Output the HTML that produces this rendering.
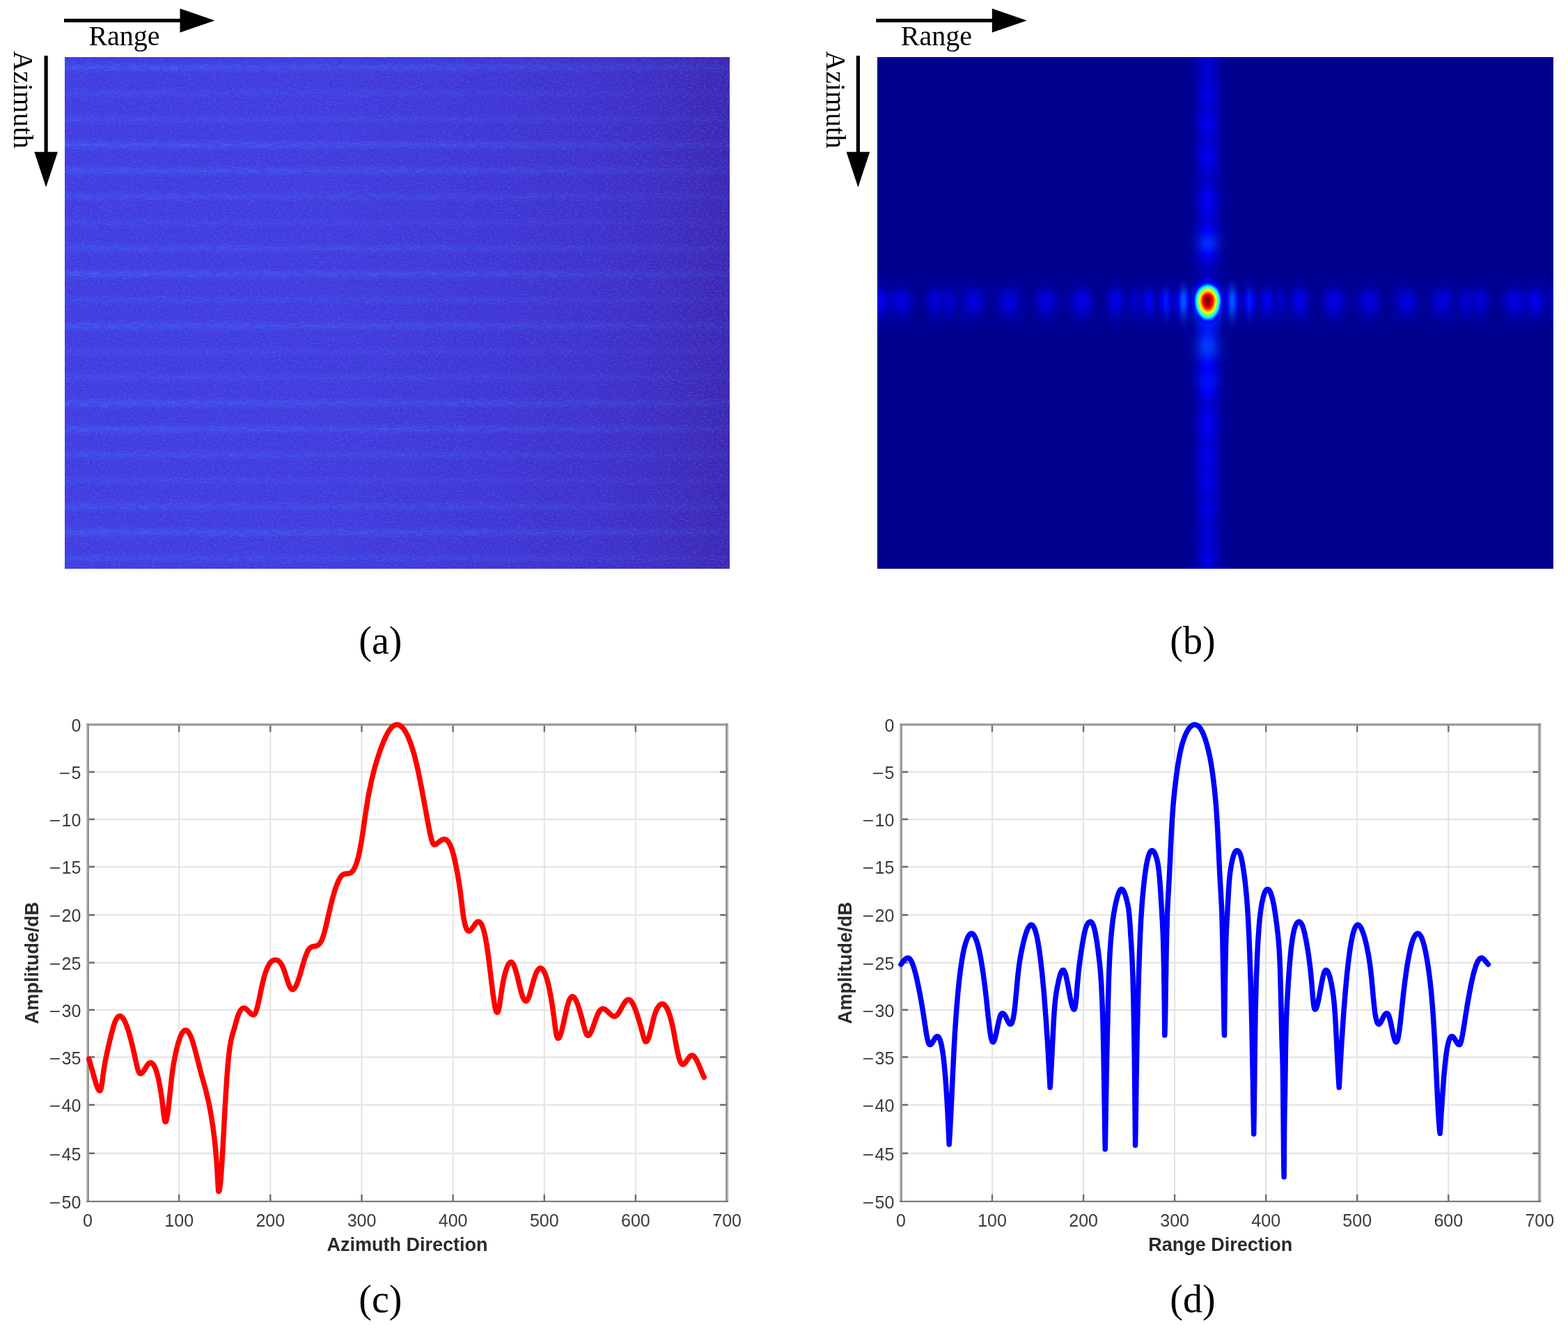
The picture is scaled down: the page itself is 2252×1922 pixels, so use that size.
<!DOCTYPE html>
<html lang="en"><head><meta charset="utf-8"><title>Point target response figure</title>
<style>html,body{margin:0;padding:0;background:#fff}body{width:2252px;height:1922px;overflow:hidden}svg{display:block}.se{font-family:"Liberation Serif",serif;fill:#000}.tk{font-family:"Liberation Sans",sans-serif;font-size:25px;fill:#3a3a3a}.lb{font-family:"Liberation Sans",sans-serif;font-size:27px;font-weight:bold;fill:#2a2a2a}</style></head><body>
<svg xmlns="http://www.w3.org/2000/svg" width="2252" height="1922" viewBox="0 0 2252 1922">
<rect width="2252" height="1922" fill="#fff"/>
<defs>
<linearGradient id="ga" x1="0" x2="1" y1="0" y2="0">
<stop offset="0" stop-color="#453fe3"/>
<stop offset="0.3" stop-color="#453ee2"/>
<stop offset="0.5" stop-color="#443bdd"/>
<stop offset="0.65" stop-color="#4337d6"/>
<stop offset="0.8" stop-color="#4232cb"/>
<stop offset="0.9" stop-color="#412dc0"/>
<stop offset="0.96" stop-color="#4029b5"/>
<stop offset="1" stop-color="#3e26ac"/>
</linearGradient>
<linearGradient id="gs" x1="0" x2="0" y1="0" y2="1"><stop offset="0.0000" stop-color="#fff" stop-opacity="0.000"/><stop offset="0.0071" stop-color="#fff" stop-opacity="0.000"/><stop offset="0.0143" stop-color="#fff" stop-opacity="0.002"/><stop offset="0.0214" stop-color="#fff" stop-opacity="0.016"/><stop offset="0.0286" stop-color="#fff" stop-opacity="0.090"/><stop offset="0.0357" stop-color="#fff" stop-opacity="0.302"/><stop offset="0.0429" stop-color="#fff" stop-opacity="0.627"/><stop offset="0.0500" stop-color="#fff" stop-opacity="0.800"/><stop offset="0.0571" stop-color="#fff" stop-opacity="0.627"/><stop offset="0.0643" stop-color="#fff" stop-opacity="0.302"/><stop offset="0.0714" stop-color="#fff" stop-opacity="0.090"/><stop offset="0.0786" stop-color="#fff" stop-opacity="0.016"/><stop offset="0.0857" stop-color="#fff" stop-opacity="0.002"/><stop offset="0.0929" stop-color="#fff" stop-opacity="0.000"/><stop offset="0.1000" stop-color="#fff" stop-opacity="0.000"/><stop offset="0.1071" stop-color="#fff" stop-opacity="0.000"/><stop offset="0.1143" stop-color="#fff" stop-opacity="0.001"/><stop offset="0.1214" stop-color="#fff" stop-opacity="0.008"/><stop offset="0.1286" stop-color="#fff" stop-opacity="0.045"/><stop offset="0.1357" stop-color="#fff" stop-opacity="0.151"/><stop offset="0.1429" stop-color="#fff" stop-opacity="0.314"/><stop offset="0.1500" stop-color="#fff" stop-opacity="0.400"/><stop offset="0.1571" stop-color="#fff" stop-opacity="0.314"/><stop offset="0.1643" stop-color="#fff" stop-opacity="0.151"/><stop offset="0.1714" stop-color="#fff" stop-opacity="0.045"/><stop offset="0.1786" stop-color="#fff" stop-opacity="0.008"/><stop offset="0.1857" stop-color="#fff" stop-opacity="0.001"/><stop offset="0.1929" stop-color="#fff" stop-opacity="0.000"/><stop offset="0.2000" stop-color="#fff" stop-opacity="0.000"/><stop offset="0.2071" stop-color="#fff" stop-opacity="0.000"/><stop offset="0.2143" stop-color="#fff" stop-opacity="0.001"/><stop offset="0.2214" stop-color="#fff" stop-opacity="0.010"/><stop offset="0.2286" stop-color="#fff" stop-opacity="0.056"/><stop offset="0.2357" stop-color="#fff" stop-opacity="0.189"/><stop offset="0.2429" stop-color="#fff" stop-opacity="0.392"/><stop offset="0.2500" stop-color="#fff" stop-opacity="0.500"/><stop offset="0.2571" stop-color="#fff" stop-opacity="0.392"/><stop offset="0.2643" stop-color="#fff" stop-opacity="0.189"/><stop offset="0.2714" stop-color="#fff" stop-opacity="0.056"/><stop offset="0.2786" stop-color="#fff" stop-opacity="0.010"/><stop offset="0.2857" stop-color="#fff" stop-opacity="0.001"/><stop offset="0.2929" stop-color="#fff" stop-opacity="0.000"/><stop offset="0.3000" stop-color="#fff" stop-opacity="0.000"/><stop offset="0.3071" stop-color="#fff" stop-opacity="0.000"/><stop offset="0.3143" stop-color="#fff" stop-opacity="0.002"/><stop offset="0.3214" stop-color="#fff" stop-opacity="0.017"/><stop offset="0.3286" stop-color="#fff" stop-opacity="0.095"/><stop offset="0.3357" stop-color="#fff" stop-opacity="0.321"/><stop offset="0.3429" stop-color="#fff" stop-opacity="0.667"/><stop offset="0.3500" stop-color="#fff" stop-opacity="0.850"/><stop offset="0.3571" stop-color="#fff" stop-opacity="0.667"/><stop offset="0.3643" stop-color="#fff" stop-opacity="0.321"/><stop offset="0.3714" stop-color="#fff" stop-opacity="0.095"/><stop offset="0.3786" stop-color="#fff" stop-opacity="0.017"/><stop offset="0.3857" stop-color="#fff" stop-opacity="0.002"/><stop offset="0.3929" stop-color="#fff" stop-opacity="0.000"/><stop offset="0.4000" stop-color="#fff" stop-opacity="0.000"/><stop offset="0.4071" stop-color="#fff" stop-opacity="0.000"/><stop offset="0.4143" stop-color="#fff" stop-opacity="0.002"/><stop offset="0.4214" stop-color="#fff" stop-opacity="0.016"/><stop offset="0.4286" stop-color="#fff" stop-opacity="0.090"/><stop offset="0.4357" stop-color="#fff" stop-opacity="0.302"/><stop offset="0.4429" stop-color="#fff" stop-opacity="0.627"/><stop offset="0.4500" stop-color="#fff" stop-opacity="0.800"/><stop offset="0.4571" stop-color="#fff" stop-opacity="0.627"/><stop offset="0.4643" stop-color="#fff" stop-opacity="0.302"/><stop offset="0.4714" stop-color="#fff" stop-opacity="0.090"/><stop offset="0.4786" stop-color="#fff" stop-opacity="0.016"/><stop offset="0.4857" stop-color="#fff" stop-opacity="0.002"/><stop offset="0.4929" stop-color="#fff" stop-opacity="0.000"/><stop offset="0.5000" stop-color="#fff" stop-opacity="0.000"/><stop offset="0.5071" stop-color="#fff" stop-opacity="0.000"/><stop offset="0.5143" stop-color="#fff" stop-opacity="0.001"/><stop offset="0.5214" stop-color="#fff" stop-opacity="0.012"/><stop offset="0.5286" stop-color="#fff" stop-opacity="0.067"/><stop offset="0.5357" stop-color="#fff" stop-opacity="0.227"/><stop offset="0.5429" stop-color="#fff" stop-opacity="0.470"/><stop offset="0.5500" stop-color="#fff" stop-opacity="0.600"/><stop offset="0.5571" stop-color="#fff" stop-opacity="0.470"/><stop offset="0.5643" stop-color="#fff" stop-opacity="0.227"/><stop offset="0.5714" stop-color="#fff" stop-opacity="0.067"/><stop offset="0.5786" stop-color="#fff" stop-opacity="0.012"/><stop offset="0.5857" stop-color="#fff" stop-opacity="0.001"/><stop offset="0.5929" stop-color="#fff" stop-opacity="0.000"/><stop offset="0.6000" stop-color="#fff" stop-opacity="0.000"/><stop offset="0.6071" stop-color="#fff" stop-opacity="0.000"/><stop offset="0.6143" stop-color="#fff" stop-opacity="0.001"/><stop offset="0.6214" stop-color="#fff" stop-opacity="0.008"/><stop offset="0.6286" stop-color="#fff" stop-opacity="0.045"/><stop offset="0.6357" stop-color="#fff" stop-opacity="0.151"/><stop offset="0.6429" stop-color="#fff" stop-opacity="0.314"/><stop offset="0.6500" stop-color="#fff" stop-opacity="0.400"/><stop offset="0.6571" stop-color="#fff" stop-opacity="0.314"/><stop offset="0.6643" stop-color="#fff" stop-opacity="0.151"/><stop offset="0.6714" stop-color="#fff" stop-opacity="0.045"/><stop offset="0.6786" stop-color="#fff" stop-opacity="0.008"/><stop offset="0.6857" stop-color="#fff" stop-opacity="0.001"/><stop offset="0.6929" stop-color="#fff" stop-opacity="0.000"/><stop offset="0.7000" stop-color="#fff" stop-opacity="0.000"/><stop offset="0.7071" stop-color="#fff" stop-opacity="0.000"/><stop offset="0.7143" stop-color="#fff" stop-opacity="0.001"/><stop offset="0.7214" stop-color="#fff" stop-opacity="0.013"/><stop offset="0.7286" stop-color="#fff" stop-opacity="0.073"/><stop offset="0.7357" stop-color="#fff" stop-opacity="0.246"/><stop offset="0.7429" stop-color="#fff" stop-opacity="0.510"/><stop offset="0.7500" stop-color="#fff" stop-opacity="0.650"/><stop offset="0.7571" stop-color="#fff" stop-opacity="0.510"/><stop offset="0.7643" stop-color="#fff" stop-opacity="0.246"/><stop offset="0.7714" stop-color="#fff" stop-opacity="0.073"/><stop offset="0.7786" stop-color="#fff" stop-opacity="0.013"/><stop offset="0.7857" stop-color="#fff" stop-opacity="0.001"/><stop offset="0.7929" stop-color="#fff" stop-opacity="0.000"/><stop offset="0.8000" stop-color="#fff" stop-opacity="0.000"/><stop offset="0.8071" stop-color="#fff" stop-opacity="0.000"/><stop offset="0.8143" stop-color="#fff" stop-opacity="0.002"/><stop offset="0.8214" stop-color="#fff" stop-opacity="0.017"/><stop offset="0.8286" stop-color="#fff" stop-opacity="0.095"/><stop offset="0.8357" stop-color="#fff" stop-opacity="0.321"/><stop offset="0.8429" stop-color="#fff" stop-opacity="0.667"/><stop offset="0.8500" stop-color="#fff" stop-opacity="0.850"/><stop offset="0.8571" stop-color="#fff" stop-opacity="0.667"/><stop offset="0.8643" stop-color="#fff" stop-opacity="0.321"/><stop offset="0.8714" stop-color="#fff" stop-opacity="0.095"/><stop offset="0.8786" stop-color="#fff" stop-opacity="0.017"/><stop offset="0.8857" stop-color="#fff" stop-opacity="0.002"/><stop offset="0.8929" stop-color="#fff" stop-opacity="0.000"/><stop offset="0.9000" stop-color="#fff" stop-opacity="0.000"/><stop offset="0.9071" stop-color="#fff" stop-opacity="0.000"/><stop offset="0.9143" stop-color="#fff" stop-opacity="0.001"/><stop offset="0.9214" stop-color="#fff" stop-opacity="0.010"/><stop offset="0.9286" stop-color="#fff" stop-opacity="0.056"/><stop offset="0.9357" stop-color="#fff" stop-opacity="0.189"/><stop offset="0.9429" stop-color="#fff" stop-opacity="0.392"/><stop offset="0.9500" stop-color="#fff" stop-opacity="0.500"/><stop offset="0.9571" stop-color="#fff" stop-opacity="0.392"/><stop offset="0.9643" stop-color="#fff" stop-opacity="0.189"/><stop offset="0.9714" stop-color="#fff" stop-opacity="0.056"/><stop offset="0.9786" stop-color="#fff" stop-opacity="0.010"/><stop offset="0.9857" stop-color="#fff" stop-opacity="0.001"/><stop offset="0.9929" stop-color="#fff" stop-opacity="0.000"/><stop offset="1.0000" stop-color="#fff" stop-opacity="0.000"/></linearGradient>
<pattern id="ps" x="93" y="78.4" width="955" height="371.0" patternUnits="userSpaceOnUse"><rect x="0" y="0" width="955" height="371.0" fill="url(#gs)"/></pattern>
<linearGradient id="gsm" x1="0" x2="1" y1="0" y2="0"><stop offset="0" stop-color="#000" stop-opacity="0"/><stop offset="0.6" stop-color="#000" stop-opacity="0.25"/><stop offset="1" stop-color="#000" stop-opacity="0.7"/></linearGradient>
<mask id="ms" maskUnits="userSpaceOnUse" x="93" y="82" width="955" height="735"><rect x="93" y="82" width="955" height="735" fill="url(#ps)"/><rect x="93" y="82" width="955" height="735" fill="url(#gsm)"/></mask>
<filter id="nz" x="0" y="0" width="100%" height="100%" color-interpolation-filters="sRGB"><feTurbulence type="fractalNoise" baseFrequency="0.27 0.4" numOctaves="2" seed="7"/><feColorMatrix type="matrix" values="0 0 0 0 0.28  0 0 0 0 0.42  0 0 0 0 0.97  3.2 0 0 0 -1.45"/></filter>
<filter id="nd" x="0" y="0" width="100%" height="100%" color-interpolation-filters="sRGB"><feTurbulence type="fractalNoise" baseFrequency="0.27 0.4" numOctaves="2" seed="23"/><feColorMatrix type="matrix" values="0 0 0 0 0.24  0 0 0 0 0.17  0 0 0 0 0.76  0 3.2 0 0 -1.45"/></filter>
<filter id="nst" x="0" y="0" width="100%" height="100%" color-interpolation-filters="sRGB"><feTurbulence type="fractalNoise" baseFrequency="0.07 0.4" numOctaves="2" seed="3"/><feColorMatrix type="matrix" values="0 0 0 0 0.27  0 0 0 0 0.47  0 0 0 0 0.97  0 0 3.5 0 -1.35"/></filter>
<linearGradient id="gh" gradientUnits="userSpaceOnUse" x1="1260" x2="2231" y1="0" y2="0">
<stop offset="0.0000" stop-color="#0000e5" stop-opacity="1.00"/>
<stop offset="0.0026" stop-color="#0000ec" stop-opacity="1.00"/>
<stop offset="0.0051" stop-color="#0000ec" stop-opacity="1.00"/>
<stop offset="0.0077" stop-color="#0000e7" stop-opacity="1.00"/>
<stop offset="0.0103" stop-color="#0000de" stop-opacity="1.00"/>
<stop offset="0.0129" stop-color="#0000d3" stop-opacity="1.00"/>
<stop offset="0.0154" stop-color="#0000ca" stop-opacity="1.00"/>
<stop offset="0.0180" stop-color="#0000c4" stop-opacity="1.00"/>
<stop offset="0.0206" stop-color="#0000c3" stop-opacity="1.00"/>
<stop offset="0.0232" stop-color="#0000c6" stop-opacity="1.00"/>
<stop offset="0.0257" stop-color="#0000cc" stop-opacity="1.00"/>
<stop offset="0.0283" stop-color="#0000d4" stop-opacity="1.00"/>
<stop offset="0.0309" stop-color="#0000db" stop-opacity="1.00"/>
<stop offset="0.0335" stop-color="#0000e0" stop-opacity="1.00"/>
<stop offset="0.0360" stop-color="#0000e1" stop-opacity="1.00"/>
<stop offset="0.0386" stop-color="#0000de" stop-opacity="1.00"/>
<stop offset="0.0412" stop-color="#0000d8" stop-opacity="1.00"/>
<stop offset="0.0438" stop-color="#0000cf" stop-opacity="1.00"/>
<stop offset="0.0463" stop-color="#0000c4" stop-opacity="1.00"/>
<stop offset="0.0489" stop-color="#0000b9" stop-opacity="1.00"/>
<stop offset="0.0515" stop-color="#0000ae" stop-opacity="1.00"/>
<stop offset="0.0541" stop-color="#0000ae" stop-opacity="0.72"/>
<stop offset="0.0566" stop-color="#0000ae" stop-opacity="0.49"/>
<stop offset="0.0592" stop-color="#0000ae" stop-opacity="0.33"/>
<stop offset="0.0618" stop-color="#0000ae" stop-opacity="0.23"/>
<stop offset="0.0644" stop-color="#0000ae" stop-opacity="0.21"/>
<stop offset="0.0669" stop-color="#0000ae" stop-opacity="0.28"/>
<stop offset="0.0695" stop-color="#0000ae" stop-opacity="0.44"/>
<stop offset="0.0721" stop-color="#0000ae" stop-opacity="0.72"/>
<stop offset="0.0747" stop-color="#0000b2" stop-opacity="1.00"/>
<stop offset="0.0772" stop-color="#0000c0" stop-opacity="1.00"/>
<stop offset="0.0798" stop-color="#0000cd" stop-opacity="1.00"/>
<stop offset="0.0824" stop-color="#0000d8" stop-opacity="1.00"/>
<stop offset="0.0850" stop-color="#0000dd" stop-opacity="1.00"/>
<stop offset="0.0875" stop-color="#0000db" stop-opacity="1.00"/>
<stop offset="0.0901" stop-color="#0000d4" stop-opacity="1.00"/>
<stop offset="0.0927" stop-color="#0000cb" stop-opacity="1.00"/>
<stop offset="0.0953" stop-color="#0000c5" stop-opacity="1.00"/>
<stop offset="0.0978" stop-color="#0000c3" stop-opacity="1.00"/>
<stop offset="0.1004" stop-color="#0000c7" stop-opacity="1.00"/>
<stop offset="0.1030" stop-color="#0000cc" stop-opacity="1.00"/>
<stop offset="0.1056" stop-color="#0000d0" stop-opacity="1.00"/>
<stop offset="0.1081" stop-color="#0000ce" stop-opacity="1.00"/>
<stop offset="0.1107" stop-color="#0000c7" stop-opacity="1.00"/>
<stop offset="0.1133" stop-color="#0000bc" stop-opacity="1.00"/>
<stop offset="0.1159" stop-color="#0000b1" stop-opacity="1.00"/>
<stop offset="0.1184" stop-color="#0000ae" stop-opacity="0.86"/>
<stop offset="0.1210" stop-color="#0000ae" stop-opacity="0.78"/>
<stop offset="0.1236" stop-color="#0000ae" stop-opacity="0.86"/>
<stop offset="0.1262" stop-color="#0000b0" stop-opacity="1.00"/>
<stop offset="0.1287" stop-color="#0000ba" stop-opacity="1.00"/>
<stop offset="0.1313" stop-color="#0000c5" stop-opacity="1.00"/>
<stop offset="0.1339" stop-color="#0000cf" stop-opacity="1.00"/>
<stop offset="0.1365" stop-color="#0000d8" stop-opacity="1.00"/>
<stop offset="0.1390" stop-color="#0000df" stop-opacity="1.00"/>
<stop offset="0.1416" stop-color="#0000e1" stop-opacity="1.00"/>
<stop offset="0.1442" stop-color="#0000df" stop-opacity="1.00"/>
<stop offset="0.1468" stop-color="#0000da" stop-opacity="1.00"/>
<stop offset="0.1493" stop-color="#0000d1" stop-opacity="1.00"/>
<stop offset="0.1519" stop-color="#0000c6" stop-opacity="1.00"/>
<stop offset="0.1545" stop-color="#0000bb" stop-opacity="1.00"/>
<stop offset="0.1571" stop-color="#0000b1" stop-opacity="1.00"/>
<stop offset="0.1596" stop-color="#0000ae" stop-opacity="0.79"/>
<stop offset="0.1622" stop-color="#0000ae" stop-opacity="0.56"/>
<stop offset="0.1648" stop-color="#0000ae" stop-opacity="0.41"/>
<stop offset="0.1674" stop-color="#0000ae" stop-opacity="0.34"/>
<stop offset="0.1699" stop-color="#0000ae" stop-opacity="0.34"/>
<stop offset="0.1725" stop-color="#0000ae" stop-opacity="0.42"/>
<stop offset="0.1751" stop-color="#0000ae" stop-opacity="0.57"/>
<stop offset="0.1777" stop-color="#0000ae" stop-opacity="0.80"/>
<stop offset="0.1802" stop-color="#0000b1" stop-opacity="1.00"/>
<stop offset="0.1828" stop-color="#0000bc" stop-opacity="1.00"/>
<stop offset="0.1854" stop-color="#0000c7" stop-opacity="1.00"/>
<stop offset="0.1880" stop-color="#0000d1" stop-opacity="1.00"/>
<stop offset="0.1905" stop-color="#0000da" stop-opacity="1.00"/>
<stop offset="0.1931" stop-color="#0000df" stop-opacity="1.00"/>
<stop offset="0.1957" stop-color="#0000e1" stop-opacity="1.00"/>
<stop offset="0.1982" stop-color="#0000de" stop-opacity="1.00"/>
<stop offset="0.2008" stop-color="#0000d8" stop-opacity="1.00"/>
<stop offset="0.2034" stop-color="#0000cf" stop-opacity="1.00"/>
<stop offset="0.2060" stop-color="#0000c4" stop-opacity="1.00"/>
<stop offset="0.2085" stop-color="#0000b9" stop-opacity="1.00"/>
<stop offset="0.2111" stop-color="#0000af" stop-opacity="1.00"/>
<stop offset="0.2137" stop-color="#0000ae" stop-opacity="0.74"/>
<stop offset="0.2163" stop-color="#0000ae" stop-opacity="0.52"/>
<stop offset="0.2188" stop-color="#0000ae" stop-opacity="0.37"/>
<stop offset="0.2214" stop-color="#0000ae" stop-opacity="0.30"/>
<stop offset="0.2240" stop-color="#0000ae" stop-opacity="0.30"/>
<stop offset="0.2266" stop-color="#0000ae" stop-opacity="0.38"/>
<stop offset="0.2291" stop-color="#0000ae" stop-opacity="0.53"/>
<stop offset="0.2317" stop-color="#0000ae" stop-opacity="0.75"/>
<stop offset="0.2343" stop-color="#0000af" stop-opacity="1.00"/>
<stop offset="0.2369" stop-color="#0000b9" stop-opacity="1.00"/>
<stop offset="0.2394" stop-color="#0000c5" stop-opacity="1.00"/>
<stop offset="0.2420" stop-color="#0000cf" stop-opacity="1.00"/>
<stop offset="0.2446" stop-color="#0000d8" stop-opacity="1.00"/>
<stop offset="0.2472" stop-color="#0000df" stop-opacity="1.00"/>
<stop offset="0.2497" stop-color="#0000e1" stop-opacity="1.00"/>
<stop offset="0.2523" stop-color="#0000df" stop-opacity="1.00"/>
<stop offset="0.2549" stop-color="#0000da" stop-opacity="1.00"/>
<stop offset="0.2575" stop-color="#0000d1" stop-opacity="1.00"/>
<stop offset="0.2600" stop-color="#0000c6" stop-opacity="1.00"/>
<stop offset="0.2626" stop-color="#0000bb" stop-opacity="1.00"/>
<stop offset="0.2652" stop-color="#0000b1" stop-opacity="1.00"/>
<stop offset="0.2678" stop-color="#0000ae" stop-opacity="0.80"/>
<stop offset="0.2703" stop-color="#0000ae" stop-opacity="0.58"/>
<stop offset="0.2729" stop-color="#0000ae" stop-opacity="0.44"/>
<stop offset="0.2755" stop-color="#0000ae" stop-opacity="0.38"/>
<stop offset="0.2781" stop-color="#0000ae" stop-opacity="0.40"/>
<stop offset="0.2806" stop-color="#0000ae" stop-opacity="0.51"/>
<stop offset="0.2832" stop-color="#0000ae" stop-opacity="0.70"/>
<stop offset="0.2858" stop-color="#0000ae" stop-opacity="0.98"/>
<stop offset="0.2884" stop-color="#0000b8" stop-opacity="1.00"/>
<stop offset="0.2909" stop-color="#0000c3" stop-opacity="1.00"/>
<stop offset="0.2935" stop-color="#0000cf" stop-opacity="1.00"/>
<stop offset="0.2961" stop-color="#0000d9" stop-opacity="1.00"/>
<stop offset="0.2987" stop-color="#0000e1" stop-opacity="1.00"/>
<stop offset="0.3012" stop-color="#0000e6" stop-opacity="1.00"/>
<stop offset="0.3038" stop-color="#0000e6" stop-opacity="1.00"/>
<stop offset="0.3064" stop-color="#0000e1" stop-opacity="1.00"/>
<stop offset="0.3090" stop-color="#0000d9" stop-opacity="1.00"/>
<stop offset="0.3115" stop-color="#0000ce" stop-opacity="1.00"/>
<stop offset="0.3141" stop-color="#0000c3" stop-opacity="1.00"/>
<stop offset="0.3167" stop-color="#0000b7" stop-opacity="1.00"/>
<stop offset="0.3193" stop-color="#0000ae" stop-opacity="0.95"/>
<stop offset="0.3218" stop-color="#0000ae" stop-opacity="0.66"/>
<stop offset="0.3244" stop-color="#0000ae" stop-opacity="0.45"/>
<stop offset="0.3270" stop-color="#0000ae" stop-opacity="0.31"/>
<stop offset="0.3296" stop-color="#0000ae" stop-opacity="0.25"/>
<stop offset="0.3321" stop-color="#0000ae" stop-opacity="0.27"/>
<stop offset="0.3347" stop-color="#0000ae" stop-opacity="0.39"/>
<stop offset="0.3373" stop-color="#0000ae" stop-opacity="0.63"/>
<stop offset="0.3399" stop-color="#0000ae" stop-opacity="0.99"/>
<stop offset="0.3424" stop-color="#0000bc" stop-opacity="1.00"/>
<stop offset="0.3450" stop-color="#0000cc" stop-opacity="1.00"/>
<stop offset="0.3476" stop-color="#0000dc" stop-opacity="1.00"/>
<stop offset="0.3502" stop-color="#0000e7" stop-opacity="1.00"/>
<stop offset="0.3527" stop-color="#0000eb" stop-opacity="1.00"/>
<stop offset="0.3553" stop-color="#0000e8" stop-opacity="1.00"/>
<stop offset="0.3579" stop-color="#0000de" stop-opacity="1.00"/>
<stop offset="0.3605" stop-color="#0000cf" stop-opacity="1.00"/>
<stop offset="0.3630" stop-color="#0000bf" stop-opacity="1.00"/>
<stop offset="0.3656" stop-color="#0000b1" stop-opacity="1.00"/>
<stop offset="0.3682" stop-color="#0000ae" stop-opacity="0.83"/>
<stop offset="0.3708" stop-color="#0000ae" stop-opacity="0.80"/>
<stop offset="0.3733" stop-color="#0000af" stop-opacity="1.00"/>
<stop offset="0.3759" stop-color="#0000bd" stop-opacity="1.00"/>
<stop offset="0.3785" stop-color="#0000ca" stop-opacity="1.00"/>
<stop offset="0.3811" stop-color="#0000ce" stop-opacity="1.00"/>
<stop offset="0.3836" stop-color="#0000c8" stop-opacity="1.00"/>
<stop offset="0.3862" stop-color="#0000be" stop-opacity="1.00"/>
<stop offset="0.3888" stop-color="#0000b7" stop-opacity="1.00"/>
<stop offset="0.3913" stop-color="#0000bc" stop-opacity="1.00"/>
<stop offset="0.3939" stop-color="#0000cb" stop-opacity="1.00"/>
<stop offset="0.3965" stop-color="#0000df" stop-opacity="1.00"/>
<stop offset="0.3991" stop-color="#0000f0" stop-opacity="1.00"/>
<stop offset="0.4016" stop-color="#0000f5" stop-opacity="1.00"/>
<stop offset="0.4042" stop-color="#0000ed" stop-opacity="1.00"/>
<stop offset="0.4068" stop-color="#0000d9" stop-opacity="1.00"/>
<stop offset="0.4094" stop-color="#0000c3" stop-opacity="1.00"/>
<stop offset="0.4119" stop-color="#0000b3" stop-opacity="1.00"/>
<stop offset="0.4145" stop-color="#0000b0" stop-opacity="1.00"/>
<stop offset="0.4171" stop-color="#0000bb" stop-opacity="1.00"/>
<stop offset="0.4197" stop-color="#0000d5" stop-opacity="1.00"/>
<stop offset="0.4222" stop-color="#0000f6" stop-opacity="1.00"/>
<stop offset="0.4248" stop-color="#0011ff" stop-opacity="1.00"/>
<stop offset="0.4274" stop-color="#001aff" stop-opacity="1.00"/>
<stop offset="0.4300" stop-color="#000cff" stop-opacity="1.00"/>
<stop offset="0.4325" stop-color="#0000ee" stop-opacity="1.00"/>
<stop offset="0.4351" stop-color="#0000ce" stop-opacity="1.00"/>
<stop offset="0.4377" stop-color="#0000b9" stop-opacity="1.00"/>
<stop offset="0.4403" stop-color="#0000b7" stop-opacity="1.00"/>
<stop offset="0.4428" stop-color="#0000cc" stop-opacity="1.00"/>
<stop offset="0.4454" stop-color="#0000f4" stop-opacity="1.00"/>
<stop offset="0.4480" stop-color="#0027ff" stop-opacity="1.00"/>
<stop offset="0.4506" stop-color="#004fff" stop-opacity="1.00"/>
<stop offset="0.4531" stop-color="#005cff" stop-opacity="1.00"/>
<stop offset="0.4557" stop-color="#0047ff" stop-opacity="1.00"/>
<stop offset="0.4583" stop-color="#001bff" stop-opacity="1.00"/>
<stop offset="0.4609" stop-color="#0000e7" stop-opacity="1.00"/>
<stop offset="0.4634" stop-color="#0000be" stop-opacity="1.00"/>
<stop offset="0.4660" stop-color="#0000ae" stop-opacity="0.68"/>
<stop offset="0.4686" stop-color="#0000ae" stop-opacity="0.26"/>
<stop offset="0.4712" stop-color="#0000ae" stop-opacity="0.08"/>
<stop offset="0.4737" stop-color="#0000ae" stop-opacity="0.02"/>
<stop offset="0.4763" stop-color="#0000ae" stop-opacity="0.00"/>
<stop offset="0.4789" stop-color="#0000ae" stop-opacity="0.00"/>
<stop offset="0.4815" stop-color="#0000ae" stop-opacity="0.00"/>
<stop offset="0.4840" stop-color="#0000ae" stop-opacity="0.00"/>
<stop offset="0.4866" stop-color="#0000ae" stop-opacity="0.00"/>
<stop offset="0.4892" stop-color="#0000ae" stop-opacity="0.00"/>
<stop offset="0.4918" stop-color="#0000ae" stop-opacity="0.00"/>
<stop offset="0.4943" stop-color="#0000ae" stop-opacity="0.00"/>
<stop offset="0.4969" stop-color="#0000ae" stop-opacity="0.00"/>
<stop offset="0.4995" stop-color="#0000ae" stop-opacity="0.00"/>
<stop offset="0.5021" stop-color="#0000ae" stop-opacity="0.01"/>
<stop offset="0.5046" stop-color="#0000ae" stop-opacity="0.03"/>
<stop offset="0.5072" stop-color="#0000ae" stop-opacity="0.11"/>
<stop offset="0.5098" stop-color="#0000ae" stop-opacity="0.33"/>
<stop offset="0.5124" stop-color="#0000ae" stop-opacity="0.84"/>
<stop offset="0.5149" stop-color="#0000c7" stop-opacity="1.00"/>
<stop offset="0.5175" stop-color="#0000f3" stop-opacity="1.00"/>
<stop offset="0.5201" stop-color="#0027ff" stop-opacity="1.00"/>
<stop offset="0.5227" stop-color="#004fff" stop-opacity="1.00"/>
<stop offset="0.5252" stop-color="#005cff" stop-opacity="1.00"/>
<stop offset="0.5278" stop-color="#0048ff" stop-opacity="1.00"/>
<stop offset="0.5304" stop-color="#001bff" stop-opacity="1.00"/>
<stop offset="0.5330" stop-color="#0000e9" stop-opacity="1.00"/>
<stop offset="0.5355" stop-color="#0000c5" stop-opacity="1.00"/>
<stop offset="0.5381" stop-color="#0000b6" stop-opacity="1.00"/>
<stop offset="0.5407" stop-color="#0000bd" stop-opacity="1.00"/>
<stop offset="0.5433" stop-color="#0000d5" stop-opacity="1.00"/>
<stop offset="0.5458" stop-color="#0000f5" stop-opacity="1.00"/>
<stop offset="0.5484" stop-color="#0011ff" stop-opacity="1.00"/>
<stop offset="0.5510" stop-color="#001aff" stop-opacity="1.00"/>
<stop offset="0.5536" stop-color="#000cff" stop-opacity="1.00"/>
<stop offset="0.5561" stop-color="#0000ee" stop-opacity="1.00"/>
<stop offset="0.5587" stop-color="#0000ce" stop-opacity="1.00"/>
<stop offset="0.5613" stop-color="#0000b7" stop-opacity="1.00"/>
<stop offset="0.5639" stop-color="#0000af" stop-opacity="1.00"/>
<stop offset="0.5664" stop-color="#0000b6" stop-opacity="1.00"/>
<stop offset="0.5690" stop-color="#0000c8" stop-opacity="1.00"/>
<stop offset="0.5716" stop-color="#0000de" stop-opacity="1.00"/>
<stop offset="0.5742" stop-color="#0000f0" stop-opacity="1.00"/>
<stop offset="0.5767" stop-color="#0000f5" stop-opacity="1.00"/>
<stop offset="0.5793" stop-color="#0000ed" stop-opacity="1.00"/>
<stop offset="0.5819" stop-color="#0000da" stop-opacity="1.00"/>
<stop offset="0.5844" stop-color="#0000c6" stop-opacity="1.00"/>
<stop offset="0.5870" stop-color="#0000b9" stop-opacity="1.00"/>
<stop offset="0.5896" stop-color="#0000b8" stop-opacity="1.00"/>
<stop offset="0.5922" stop-color="#0000c0" stop-opacity="1.00"/>
<stop offset="0.5947" stop-color="#0000cb" stop-opacity="1.00"/>
<stop offset="0.5973" stop-color="#0000ce" stop-opacity="1.00"/>
<stop offset="0.5999" stop-color="#0000c7" stop-opacity="1.00"/>
<stop offset="0.6025" stop-color="#0000b9" stop-opacity="1.00"/>
<stop offset="0.6050" stop-color="#0000ae" stop-opacity="0.97"/>
<stop offset="0.6076" stop-color="#0000ae" stop-opacity="0.78"/>
<stop offset="0.6102" stop-color="#0000ae" stop-opacity="0.88"/>
<stop offset="0.6128" stop-color="#0000b4" stop-opacity="1.00"/>
<stop offset="0.6153" stop-color="#0000c3" stop-opacity="1.00"/>
<stop offset="0.6179" stop-color="#0000d3" stop-opacity="1.00"/>
<stop offset="0.6205" stop-color="#0000e1" stop-opacity="1.00"/>
<stop offset="0.6231" stop-color="#0000e9" stop-opacity="1.00"/>
<stop offset="0.6256" stop-color="#0000eb" stop-opacity="1.00"/>
<stop offset="0.6282" stop-color="#0000e5" stop-opacity="1.00"/>
<stop offset="0.6308" stop-color="#0000d8" stop-opacity="1.00"/>
<stop offset="0.6334" stop-color="#0000c8" stop-opacity="1.00"/>
<stop offset="0.6359" stop-color="#0000b9" stop-opacity="1.00"/>
<stop offset="0.6385" stop-color="#0000ae" stop-opacity="0.90"/>
<stop offset="0.6411" stop-color="#0000ae" stop-opacity="0.56"/>
<stop offset="0.6437" stop-color="#0000ae" stop-opacity="0.35"/>
<stop offset="0.6462" stop-color="#0000ae" stop-opacity="0.26"/>
<stop offset="0.6488" stop-color="#0000ae" stop-opacity="0.25"/>
<stop offset="0.6514" stop-color="#0000ae" stop-opacity="0.34"/>
<stop offset="0.6540" stop-color="#0000ae" stop-opacity="0.49"/>
<stop offset="0.6565" stop-color="#0000ae" stop-opacity="0.73"/>
<stop offset="0.6591" stop-color="#0000af" stop-opacity="1.00"/>
<stop offset="0.6617" stop-color="#0000ba" stop-opacity="1.00"/>
<stop offset="0.6643" stop-color="#0000c5" stop-opacity="1.00"/>
<stop offset="0.6668" stop-color="#0000d1" stop-opacity="1.00"/>
<stop offset="0.6694" stop-color="#0000db" stop-opacity="1.00"/>
<stop offset="0.6720" stop-color="#0000e3" stop-opacity="1.00"/>
<stop offset="0.6746" stop-color="#0000e6" stop-opacity="1.00"/>
<stop offset="0.6771" stop-color="#0000e5" stop-opacity="1.00"/>
<stop offset="0.6797" stop-color="#0000e0" stop-opacity="1.00"/>
<stop offset="0.6823" stop-color="#0000d7" stop-opacity="1.00"/>
<stop offset="0.6849" stop-color="#0000cc" stop-opacity="1.00"/>
<stop offset="0.6874" stop-color="#0000c0" stop-opacity="1.00"/>
<stop offset="0.6900" stop-color="#0000b5" stop-opacity="1.00"/>
<stop offset="0.6926" stop-color="#0000ae" stop-opacity="0.90"/>
<stop offset="0.6952" stop-color="#0000ae" stop-opacity="0.65"/>
<stop offset="0.6977" stop-color="#0000ae" stop-opacity="0.48"/>
<stop offset="0.7003" stop-color="#0000ae" stop-opacity="0.39"/>
<stop offset="0.7029" stop-color="#0000ae" stop-opacity="0.38"/>
<stop offset="0.7055" stop-color="#0000ae" stop-opacity="0.46"/>
<stop offset="0.7080" stop-color="#0000ae" stop-opacity="0.62"/>
<stop offset="0.7106" stop-color="#0000ae" stop-opacity="0.86"/>
<stop offset="0.7132" stop-color="#0000b3" stop-opacity="1.00"/>
<stop offset="0.7158" stop-color="#0000be" stop-opacity="1.00"/>
<stop offset="0.7183" stop-color="#0000c9" stop-opacity="1.00"/>
<stop offset="0.7209" stop-color="#0000d3" stop-opacity="1.00"/>
<stop offset="0.7235" stop-color="#0000db" stop-opacity="1.00"/>
<stop offset="0.7261" stop-color="#0000e0" stop-opacity="1.00"/>
<stop offset="0.7286" stop-color="#0000e1" stop-opacity="1.00"/>
<stop offset="0.7312" stop-color="#0000dd" stop-opacity="1.00"/>
<stop offset="0.7338" stop-color="#0000d6" stop-opacity="1.00"/>
<stop offset="0.7364" stop-color="#0000cd" stop-opacity="1.00"/>
<stop offset="0.7389" stop-color="#0000c2" stop-opacity="1.00"/>
<stop offset="0.7415" stop-color="#0000b7" stop-opacity="1.00"/>
<stop offset="0.7441" stop-color="#0000ae" stop-opacity="0.96"/>
<stop offset="0.7467" stop-color="#0000ae" stop-opacity="0.69"/>
<stop offset="0.7492" stop-color="#0000ae" stop-opacity="0.48"/>
<stop offset="0.7518" stop-color="#0000ae" stop-opacity="0.35"/>
<stop offset="0.7544" stop-color="#0000ae" stop-opacity="0.30"/>
<stop offset="0.7570" stop-color="#0000ae" stop-opacity="0.31"/>
<stop offset="0.7595" stop-color="#0000ae" stop-opacity="0.40"/>
<stop offset="0.7621" stop-color="#0000ae" stop-opacity="0.56"/>
<stop offset="0.7647" stop-color="#0000ae" stop-opacity="0.80"/>
<stop offset="0.7673" stop-color="#0000b1" stop-opacity="1.00"/>
<stop offset="0.7698" stop-color="#0000bc" stop-opacity="1.00"/>
<stop offset="0.7724" stop-color="#0000c7" stop-opacity="1.00"/>
<stop offset="0.7750" stop-color="#0000d1" stop-opacity="1.00"/>
<stop offset="0.7775" stop-color="#0000da" stop-opacity="1.00"/>
<stop offset="0.7801" stop-color="#0000df" stop-opacity="1.00"/>
<stop offset="0.7827" stop-color="#0000e1" stop-opacity="1.00"/>
<stop offset="0.7853" stop-color="#0000de" stop-opacity="1.00"/>
<stop offset="0.7878" stop-color="#0000d8" stop-opacity="1.00"/>
<stop offset="0.7904" stop-color="#0000cf" stop-opacity="1.00"/>
<stop offset="0.7930" stop-color="#0000c4" stop-opacity="1.00"/>
<stop offset="0.7956" stop-color="#0000b9" stop-opacity="1.00"/>
<stop offset="0.7981" stop-color="#0000af" stop-opacity="1.00"/>
<stop offset="0.8007" stop-color="#0000ae" stop-opacity="0.74"/>
<stop offset="0.8033" stop-color="#0000ae" stop-opacity="0.53"/>
<stop offset="0.8059" stop-color="#0000ae" stop-opacity="0.39"/>
<stop offset="0.8084" stop-color="#0000ae" stop-opacity="0.33"/>
<stop offset="0.8110" stop-color="#0000ae" stop-opacity="0.35"/>
<stop offset="0.8136" stop-color="#0000ae" stop-opacity="0.44"/>
<stop offset="0.8162" stop-color="#0000ae" stop-opacity="0.61"/>
<stop offset="0.8187" stop-color="#0000ae" stop-opacity="0.86"/>
<stop offset="0.8213" stop-color="#0000b3" stop-opacity="1.00"/>
<stop offset="0.8239" stop-color="#0000be" stop-opacity="1.00"/>
<stop offset="0.8265" stop-color="#0000c9" stop-opacity="1.00"/>
<stop offset="0.8290" stop-color="#0000d3" stop-opacity="1.00"/>
<stop offset="0.8316" stop-color="#0000db" stop-opacity="1.00"/>
<stop offset="0.8342" stop-color="#0000e0" stop-opacity="1.00"/>
<stop offset="0.8368" stop-color="#0000e1" stop-opacity="1.00"/>
<stop offset="0.8393" stop-color="#0000dd" stop-opacity="1.00"/>
<stop offset="0.8419" stop-color="#0000d6" stop-opacity="1.00"/>
<stop offset="0.8445" stop-color="#0000cd" stop-opacity="1.00"/>
<stop offset="0.8471" stop-color="#0000c2" stop-opacity="1.00"/>
<stop offset="0.8496" stop-color="#0000b7" stop-opacity="1.00"/>
<stop offset="0.8522" stop-color="#0000af" stop-opacity="1.00"/>
<stop offset="0.8548" stop-color="#0000ae" stop-opacity="0.83"/>
<stop offset="0.8574" stop-color="#0000ae" stop-opacity="0.78"/>
<stop offset="0.8599" stop-color="#0000ae" stop-opacity="0.91"/>
<stop offset="0.8625" stop-color="#0000b4" stop-opacity="1.00"/>
<stop offset="0.8651" stop-color="#0000bf" stop-opacity="1.00"/>
<stop offset="0.8677" stop-color="#0000c9" stop-opacity="1.00"/>
<stop offset="0.8702" stop-color="#0000cf" stop-opacity="1.00"/>
<stop offset="0.8728" stop-color="#0000cf" stop-opacity="1.00"/>
<stop offset="0.8754" stop-color="#0000cb" stop-opacity="1.00"/>
<stop offset="0.8780" stop-color="#0000c6" stop-opacity="1.00"/>
<stop offset="0.8805" stop-color="#0000c3" stop-opacity="1.00"/>
<stop offset="0.8831" stop-color="#0000c6" stop-opacity="1.00"/>
<stop offset="0.8857" stop-color="#0000cd" stop-opacity="1.00"/>
<stop offset="0.8883" stop-color="#0000d6" stop-opacity="1.00"/>
<stop offset="0.8908" stop-color="#0000dc" stop-opacity="1.00"/>
<stop offset="0.8934" stop-color="#0000dc" stop-opacity="1.00"/>
<stop offset="0.8960" stop-color="#0000d6" stop-opacity="1.00"/>
<stop offset="0.8986" stop-color="#0000ca" stop-opacity="1.00"/>
<stop offset="0.9011" stop-color="#0000bc" stop-opacity="1.00"/>
<stop offset="0.9037" stop-color="#0000ae" stop-opacity="1.00"/>
<stop offset="0.9063" stop-color="#0000ae" stop-opacity="0.65"/>
<stop offset="0.9089" stop-color="#0000ae" stop-opacity="0.39"/>
<stop offset="0.9114" stop-color="#0000ae" stop-opacity="0.25"/>
<stop offset="0.9140" stop-color="#0000ae" stop-opacity="0.21"/>
<stop offset="0.9166" stop-color="#0000ae" stop-opacity="0.25"/>
<stop offset="0.9192" stop-color="#0000ae" stop-opacity="0.36"/>
<stop offset="0.9217" stop-color="#0000ae" stop-opacity="0.54"/>
<stop offset="0.9243" stop-color="#0000ae" stop-opacity="0.79"/>
<stop offset="0.9269" stop-color="#0000b1" stop-opacity="1.00"/>
<stop offset="0.9295" stop-color="#0000bc" stop-opacity="1.00"/>
<stop offset="0.9320" stop-color="#0000c7" stop-opacity="1.00"/>
<stop offset="0.9346" stop-color="#0000d1" stop-opacity="1.00"/>
<stop offset="0.9372" stop-color="#0000da" stop-opacity="1.00"/>
<stop offset="0.9398" stop-color="#0000df" stop-opacity="1.00"/>
<stop offset="0.9423" stop-color="#0000e1" stop-opacity="1.00"/>
<stop offset="0.9449" stop-color="#0000df" stop-opacity="1.00"/>
<stop offset="0.9475" stop-color="#0000da" stop-opacity="1.00"/>
<stop offset="0.9501" stop-color="#0000d2" stop-opacity="1.00"/>
<stop offset="0.9526" stop-color="#0000cb" stop-opacity="1.00"/>
<stop offset="0.9552" stop-color="#0000c5" stop-opacity="1.00"/>
<stop offset="0.9578" stop-color="#0000c2" stop-opacity="1.00"/>
<stop offset="0.9604" stop-color="#0000c5" stop-opacity="1.00"/>
<stop offset="0.9629" stop-color="#0000cc" stop-opacity="1.00"/>
<stop offset="0.9655" stop-color="#0000d6" stop-opacity="1.00"/>
<stop offset="0.9681" stop-color="#0000e0" stop-opacity="1.00"/>
<stop offset="0.9706" stop-color="#0000e9" stop-opacity="1.00"/>
<stop offset="0.9732" stop-color="#0000ed" stop-opacity="1.00"/>
<stop offset="0.9758" stop-color="#0000ea" stop-opacity="1.00"/>
<stop offset="0.9784" stop-color="#0000e2" stop-opacity="1.00"/>
<stop offset="0.9809" stop-color="#0000d5" stop-opacity="1.00"/>
<stop offset="0.9835" stop-color="#0000c7" stop-opacity="1.00"/>
<stop offset="0.9861" stop-color="#0000ba" stop-opacity="1.00"/>
<stop offset="0.9887" stop-color="#0000b1" stop-opacity="1.00"/>
<stop offset="0.9912" stop-color="#0000ae" stop-opacity="0.96"/>
<stop offset="0.9938" stop-color="#0000ae" stop-opacity="1.00"/>
<stop offset="0.9964" stop-color="#0000b5" stop-opacity="1.00"/>
<stop offset="0.9990" stop-color="#0000bf" stop-opacity="1.00"/>
</linearGradient>
<linearGradient id="ghm" gradientUnits="userSpaceOnUse" x1="0" x2="0" y1="381.5" y2="501.5">
<stop offset="0.0000" stop-color="#fff" stop-opacity="0.001"/>
<stop offset="0.0250" stop-color="#fff" stop-opacity="0.001"/>
<stop offset="0.0500" stop-color="#fff" stop-opacity="0.003"/>
<stop offset="0.0750" stop-color="#fff" stop-opacity="0.007"/>
<stop offset="0.1000" stop-color="#fff" stop-opacity="0.014"/>
<stop offset="0.1250" stop-color="#fff" stop-opacity="0.027"/>
<stop offset="0.1500" stop-color="#fff" stop-opacity="0.048"/>
<stop offset="0.1750" stop-color="#fff" stop-opacity="0.083"/>
<stop offset="0.2000" stop-color="#fff" stop-opacity="0.135"/>
<stop offset="0.2250" stop-color="#fff" stop-opacity="0.209"/>
<stop offset="0.2500" stop-color="#fff" stop-opacity="0.306"/>
<stop offset="0.2750" stop-color="#fff" stop-opacity="0.425"/>
<stop offset="0.3000" stop-color="#fff" stop-opacity="0.560"/>
<stop offset="0.3250" stop-color="#fff" stop-opacity="0.699"/>
<stop offset="0.3500" stop-color="#fff" stop-opacity="0.827"/>
<stop offset="0.3750" stop-color="#fff" stop-opacity="0.929"/>
<stop offset="0.4000" stop-color="#fff" stop-opacity="0.988"/>
<stop offset="0.4250" stop-color="#fff" stop-opacity="0.998"/>
<stop offset="0.4500" stop-color="#fff" stop-opacity="0.973"/>
<stop offset="0.4750" stop-color="#fff" stop-opacity="0.919"/>
<stop offset="0.5000" stop-color="#fff" stop-opacity="0.841"/>
<stop offset="0.5250" stop-color="#fff" stop-opacity="0.746"/>
<stop offset="0.5500" stop-color="#fff" stop-opacity="0.642"/>
<stop offset="0.5750" stop-color="#fff" stop-opacity="0.535"/>
<stop offset="0.6000" stop-color="#fff" stop-opacity="0.433"/>
<stop offset="0.6250" stop-color="#fff" stop-opacity="0.339"/>
<stop offset="0.6500" stop-color="#fff" stop-opacity="0.258"/>
<stop offset="0.6750" stop-color="#fff" stop-opacity="0.190"/>
<stop offset="0.7000" stop-color="#fff" stop-opacity="0.135"/>
<stop offset="0.7250" stop-color="#fff" stop-opacity="0.094"/>
<stop offset="0.7500" stop-color="#fff" stop-opacity="0.063"/>
<stop offset="0.7750" stop-color="#fff" stop-opacity="0.041"/>
<stop offset="0.8000" stop-color="#fff" stop-opacity="0.026"/>
<stop offset="0.8250" stop-color="#fff" stop-opacity="0.016"/>
<stop offset="0.8500" stop-color="#fff" stop-opacity="0.009"/>
<stop offset="0.8750" stop-color="#fff" stop-opacity="0.005"/>
<stop offset="0.9000" stop-color="#fff" stop-opacity="0.003"/>
<stop offset="0.9250" stop-color="#fff" stop-opacity="0.002"/>
<stop offset="0.9500" stop-color="#fff" stop-opacity="0.001"/>
<stop offset="0.9750" stop-color="#fff" stop-opacity="0.000"/>
<stop offset="1.0000" stop-color="#fff" stop-opacity="0.000"/>
</linearGradient>
<mask id="mh" maskUnits="userSpaceOnUse" x="1260" y="381.5" width="971" height="120"><rect x="1260" y="381.5" width="971" height="120" fill="url(#ghm)"/></mask>
<linearGradient id="gv" gradientUnits="userSpaceOnUse" x1="0" x2="0" y1="82" y2="817">
<stop offset="0.0000" stop-color="#0000d2"/>
<stop offset="0.0034" stop-color="#0000d4"/>
<stop offset="0.0068" stop-color="#0000d6"/>
<stop offset="0.0102" stop-color="#0000d7"/>
<stop offset="0.0136" stop-color="#0000d8"/>
<stop offset="0.0170" stop-color="#0000d7"/>
<stop offset="0.0204" stop-color="#0000d7"/>
<stop offset="0.0238" stop-color="#0000d5"/>
<stop offset="0.0272" stop-color="#0000d4"/>
<stop offset="0.0306" stop-color="#0000d3"/>
<stop offset="0.0340" stop-color="#0000d2"/>
<stop offset="0.0374" stop-color="#0000d2"/>
<stop offset="0.0408" stop-color="#0000d2"/>
<stop offset="0.0442" stop-color="#0000d3"/>
<stop offset="0.0476" stop-color="#0000d5"/>
<stop offset="0.0510" stop-color="#0000d7"/>
<stop offset="0.0544" stop-color="#0000da"/>
<stop offset="0.0578" stop-color="#0000dd"/>
<stop offset="0.0612" stop-color="#0000df"/>
<stop offset="0.0646" stop-color="#0000e1"/>
<stop offset="0.0680" stop-color="#0000e3"/>
<stop offset="0.0714" stop-color="#0000e3"/>
<stop offset="0.0748" stop-color="#0000e2"/>
<stop offset="0.0782" stop-color="#0000e1"/>
<stop offset="0.0816" stop-color="#0000df"/>
<stop offset="0.0850" stop-color="#0000dd"/>
<stop offset="0.0884" stop-color="#0000da"/>
<stop offset="0.0918" stop-color="#0000d9"/>
<stop offset="0.0952" stop-color="#0000d7"/>
<stop offset="0.0986" stop-color="#0000d7"/>
<stop offset="0.1020" stop-color="#0000d8"/>
<stop offset="0.1054" stop-color="#0000da"/>
<stop offset="0.1088" stop-color="#0000dd"/>
<stop offset="0.1122" stop-color="#0000e1"/>
<stop offset="0.1156" stop-color="#0000e4"/>
<stop offset="0.1190" stop-color="#0000e8"/>
<stop offset="0.1224" stop-color="#0000eb"/>
<stop offset="0.1259" stop-color="#0000ec"/>
<stop offset="0.1293" stop-color="#0000ed"/>
<stop offset="0.1327" stop-color="#0000ed"/>
<stop offset="0.1361" stop-color="#0000eb"/>
<stop offset="0.1395" stop-color="#0000e8"/>
<stop offset="0.1429" stop-color="#0000e5"/>
<stop offset="0.1463" stop-color="#0000e2"/>
<stop offset="0.1497" stop-color="#0000de"/>
<stop offset="0.1531" stop-color="#0000dc"/>
<stop offset="0.1565" stop-color="#0000da"/>
<stop offset="0.1599" stop-color="#0000d9"/>
<stop offset="0.1633" stop-color="#0000da"/>
<stop offset="0.1667" stop-color="#0000db"/>
<stop offset="0.1701" stop-color="#0000de"/>
<stop offset="0.1735" stop-color="#0000e1"/>
<stop offset="0.1769" stop-color="#0000e4"/>
<stop offset="0.1803" stop-color="#0000e8"/>
<stop offset="0.1837" stop-color="#0000ec"/>
<stop offset="0.1871" stop-color="#0000ee"/>
<stop offset="0.1905" stop-color="#0000f0"/>
<stop offset="0.1939" stop-color="#0000f1"/>
<stop offset="0.1973" stop-color="#0000f0"/>
<stop offset="0.2007" stop-color="#0000ef"/>
<stop offset="0.2041" stop-color="#0000ec"/>
<stop offset="0.2075" stop-color="#0000e8"/>
<stop offset="0.2109" stop-color="#0000e4"/>
<stop offset="0.2143" stop-color="#0000df"/>
<stop offset="0.2177" stop-color="#0000da"/>
<stop offset="0.2211" stop-color="#0000d6"/>
<stop offset="0.2245" stop-color="#0000d2"/>
<stop offset="0.2279" stop-color="#0000cf"/>
<stop offset="0.2313" stop-color="#0000cc"/>
<stop offset="0.2347" stop-color="#0000cb"/>
<stop offset="0.2381" stop-color="#0000cb"/>
<stop offset="0.2415" stop-color="#0000cc"/>
<stop offset="0.2449" stop-color="#0000ce"/>
<stop offset="0.2483" stop-color="#0000d1"/>
<stop offset="0.2517" stop-color="#0000d5"/>
<stop offset="0.2551" stop-color="#0000da"/>
<stop offset="0.2585" stop-color="#0000df"/>
<stop offset="0.2619" stop-color="#0000e4"/>
<stop offset="0.2653" stop-color="#0000e9"/>
<stop offset="0.2687" stop-color="#0000ed"/>
<stop offset="0.2721" stop-color="#0000f1"/>
<stop offset="0.2755" stop-color="#0000f4"/>
<stop offset="0.2789" stop-color="#0000f5"/>
<stop offset="0.2823" stop-color="#0000f6"/>
<stop offset="0.2857" stop-color="#0000f5"/>
<stop offset="0.2891" stop-color="#0000f3"/>
<stop offset="0.2925" stop-color="#0000f0"/>
<stop offset="0.2959" stop-color="#0000ed"/>
<stop offset="0.2993" stop-color="#0000e9"/>
<stop offset="0.3027" stop-color="#0000e5"/>
<stop offset="0.3061" stop-color="#0000e1"/>
<stop offset="0.3095" stop-color="#0000de"/>
<stop offset="0.3129" stop-color="#0000db"/>
<stop offset="0.3163" stop-color="#0000da"/>
<stop offset="0.3197" stop-color="#0000db"/>
<stop offset="0.3231" stop-color="#0000dd"/>
<stop offset="0.3265" stop-color="#0000e1"/>
<stop offset="0.3299" stop-color="#0000e6"/>
<stop offset="0.3333" stop-color="#0000ed"/>
<stop offset="0.3367" stop-color="#0000f5"/>
<stop offset="0.3401" stop-color="#0000fe"/>
<stop offset="0.3435" stop-color="#0008ff"/>
<stop offset="0.3469" stop-color="#0011ff"/>
<stop offset="0.3503" stop-color="#001aff"/>
<stop offset="0.3537" stop-color="#0021ff"/>
<stop offset="0.3571" stop-color="#0026ff"/>
<stop offset="0.3605" stop-color="#0029ff"/>
<stop offset="0.3639" stop-color="#002aff"/>
<stop offset="0.3673" stop-color="#0028ff"/>
<stop offset="0.3707" stop-color="#0024ff"/>
<stop offset="0.3741" stop-color="#001dff"/>
<stop offset="0.3776" stop-color="#0015ff"/>
<stop offset="0.3810" stop-color="#000cff"/>
<stop offset="0.3844" stop-color="#0002ff"/>
<stop offset="0.3878" stop-color="#0000f6"/>
<stop offset="0.3912" stop-color="#0000ec"/>
<stop offset="0.3946" stop-color="#0000e2"/>
<stop offset="0.3980" stop-color="#0000d9"/>
<stop offset="0.4014" stop-color="#0000d1"/>
<stop offset="0.4048" stop-color="#0000cb"/>
<stop offset="0.4082" stop-color="#0000c5"/>
<stop offset="0.4116" stop-color="#0000c1"/>
<stop offset="0.4150" stop-color="#0000bd"/>
<stop offset="0.4184" stop-color="#0000bb"/>
<stop offset="0.4218" stop-color="#0000ba"/>
<stop offset="0.4252" stop-color="#0000bb"/>
<stop offset="0.4286" stop-color="#0000bd"/>
<stop offset="0.4320" stop-color="#0000c2"/>
<stop offset="0.4354" stop-color="#0000c9"/>
<stop offset="0.4388" stop-color="#0000d5"/>
<stop offset="0.4422" stop-color="#0000e6"/>
<stop offset="0.4456" stop-color="#0000fd"/>
<stop offset="0.4490" stop-color="#001bff"/>
<stop offset="0.4524" stop-color="#003eff"/>
<stop offset="0.4558" stop-color="#0065ff"/>
<stop offset="0.4592" stop-color="#008fff"/>
<stop offset="0.4626" stop-color="#00b8ff"/>
<stop offset="0.4660" stop-color="#00ddff"/>
<stop offset="0.4694" stop-color="#00f9ff"/>
<stop offset="0.4728" stop-color="#0cfff3"/>
<stop offset="0.4762" stop-color="#10ffef"/>
<stop offset="0.4796" stop-color="#0dfff2"/>
<stop offset="0.4830" stop-color="#05fffa"/>
<stop offset="0.4864" stop-color="#00f7ff"/>
<stop offset="0.4898" stop-color="#00e7ff"/>
<stop offset="0.4932" stop-color="#00d4ff"/>
<stop offset="0.4966" stop-color="#00bfff"/>
<stop offset="0.5000" stop-color="#00a8ff"/>
<stop offset="0.5034" stop-color="#0091ff"/>
<stop offset="0.5068" stop-color="#007aff"/>
<stop offset="0.5102" stop-color="#0064ff"/>
<stop offset="0.5136" stop-color="#0050ff"/>
<stop offset="0.5170" stop-color="#003fff"/>
<stop offset="0.5204" stop-color="#0030ff"/>
<stop offset="0.5238" stop-color="#0025ff"/>
<stop offset="0.5272" stop-color="#001dff"/>
<stop offset="0.5306" stop-color="#0019ff"/>
<stop offset="0.5340" stop-color="#0017ff"/>
<stop offset="0.5374" stop-color="#0018ff"/>
<stop offset="0.5408" stop-color="#001cff"/>
<stop offset="0.5442" stop-color="#0021ff"/>
<stop offset="0.5476" stop-color="#0027ff"/>
<stop offset="0.5510" stop-color="#002dff"/>
<stop offset="0.5544" stop-color="#0033ff"/>
<stop offset="0.5578" stop-color="#0037ff"/>
<stop offset="0.5612" stop-color="#003bff"/>
<stop offset="0.5646" stop-color="#003cff"/>
<stop offset="0.5680" stop-color="#003cff"/>
<stop offset="0.5714" stop-color="#0039ff"/>
<stop offset="0.5748" stop-color="#0035ff"/>
<stop offset="0.5782" stop-color="#002fff"/>
<stop offset="0.5816" stop-color="#0027ff"/>
<stop offset="0.5850" stop-color="#0020ff"/>
<stop offset="0.5884" stop-color="#0018ff"/>
<stop offset="0.5918" stop-color="#0010ff"/>
<stop offset="0.5952" stop-color="#000aff"/>
<stop offset="0.5986" stop-color="#0005ff"/>
<stop offset="0.6020" stop-color="#0001ff"/>
<stop offset="0.6054" stop-color="#0000fe"/>
<stop offset="0.6088" stop-color="#0000fd"/>
<stop offset="0.6122" stop-color="#0000fe"/>
<stop offset="0.6156" stop-color="#0001ff"/>
<stop offset="0.6190" stop-color="#0004ff"/>
<stop offset="0.6224" stop-color="#0007ff"/>
<stop offset="0.6259" stop-color="#0009ff"/>
<stop offset="0.6293" stop-color="#000cff"/>
<stop offset="0.6327" stop-color="#000dff"/>
<stop offset="0.6361" stop-color="#000dff"/>
<stop offset="0.6395" stop-color="#000cff"/>
<stop offset="0.6429" stop-color="#000aff"/>
<stop offset="0.6463" stop-color="#0006ff"/>
<stop offset="0.6497" stop-color="#0001ff"/>
<stop offset="0.6531" stop-color="#0000fb"/>
<stop offset="0.6565" stop-color="#0000f5"/>
<stop offset="0.6599" stop-color="#0000ef"/>
<stop offset="0.6633" stop-color="#0000e9"/>
<stop offset="0.6667" stop-color="#0000e3"/>
<stop offset="0.6701" stop-color="#0000df"/>
<stop offset="0.6735" stop-color="#0000dc"/>
<stop offset="0.6769" stop-color="#0000da"/>
<stop offset="0.6803" stop-color="#0000d9"/>
<stop offset="0.6837" stop-color="#0000d9"/>
<stop offset="0.6871" stop-color="#0000db"/>
<stop offset="0.6905" stop-color="#0000de"/>
<stop offset="0.6939" stop-color="#0000e1"/>
<stop offset="0.6973" stop-color="#0000e5"/>
<stop offset="0.7007" stop-color="#0000e9"/>
<stop offset="0.7041" stop-color="#0000ed"/>
<stop offset="0.7075" stop-color="#0000f1"/>
<stop offset="0.7109" stop-color="#0000f3"/>
<stop offset="0.7143" stop-color="#0000f5"/>
<stop offset="0.7177" stop-color="#0000f6"/>
<stop offset="0.7211" stop-color="#0000f6"/>
<stop offset="0.7245" stop-color="#0000f4"/>
<stop offset="0.7279" stop-color="#0000f2"/>
<stop offset="0.7313" stop-color="#0000ef"/>
<stop offset="0.7347" stop-color="#0000eb"/>
<stop offset="0.7381" stop-color="#0000e7"/>
<stop offset="0.7415" stop-color="#0000e4"/>
<stop offset="0.7449" stop-color="#0000e0"/>
<stop offset="0.7483" stop-color="#0000de"/>
<stop offset="0.7517" stop-color="#0000dd"/>
<stop offset="0.7551" stop-color="#0000dd"/>
<stop offset="0.7585" stop-color="#0000de"/>
<stop offset="0.7619" stop-color="#0000e0"/>
<stop offset="0.7653" stop-color="#0000e2"/>
<stop offset="0.7687" stop-color="#0000e5"/>
<stop offset="0.7721" stop-color="#0000e7"/>
<stop offset="0.7755" stop-color="#0000e9"/>
<stop offset="0.7789" stop-color="#0000eb"/>
<stop offset="0.7823" stop-color="#0000eb"/>
<stop offset="0.7857" stop-color="#0000ea"/>
<stop offset="0.7891" stop-color="#0000e9"/>
<stop offset="0.7925" stop-color="#0000e7"/>
<stop offset="0.7959" stop-color="#0000e5"/>
<stop offset="0.7993" stop-color="#0000e3"/>
<stop offset="0.8027" stop-color="#0000e2"/>
<stop offset="0.8061" stop-color="#0000e2"/>
<stop offset="0.8095" stop-color="#0000e3"/>
<stop offset="0.8129" stop-color="#0000e4"/>
<stop offset="0.8163" stop-color="#0000e6"/>
<stop offset="0.8197" stop-color="#0000e8"/>
<stop offset="0.8231" stop-color="#0000e9"/>
<stop offset="0.8265" stop-color="#0000ea"/>
<stop offset="0.8299" stop-color="#0000e9"/>
<stop offset="0.8333" stop-color="#0000e8"/>
<stop offset="0.8367" stop-color="#0000e6"/>
<stop offset="0.8401" stop-color="#0000e3"/>
<stop offset="0.8435" stop-color="#0000e0"/>
<stop offset="0.8469" stop-color="#0000dd"/>
<stop offset="0.8503" stop-color="#0000da"/>
<stop offset="0.8537" stop-color="#0000d9"/>
<stop offset="0.8571" stop-color="#0000d8"/>
<stop offset="0.8605" stop-color="#0000d9"/>
<stop offset="0.8639" stop-color="#0000da"/>
<stop offset="0.8673" stop-color="#0000dc"/>
<stop offset="0.8707" stop-color="#0000de"/>
<stop offset="0.8741" stop-color="#0000e0"/>
<stop offset="0.8776" stop-color="#0000e1"/>
<stop offset="0.8810" stop-color="#0000e2"/>
<stop offset="0.8844" stop-color="#0000e2"/>
<stop offset="0.8878" stop-color="#0000e1"/>
<stop offset="0.8912" stop-color="#0000df"/>
<stop offset="0.8946" stop-color="#0000dc"/>
<stop offset="0.8980" stop-color="#0000d9"/>
<stop offset="0.9014" stop-color="#0000d6"/>
<stop offset="0.9048" stop-color="#0000d3"/>
<stop offset="0.9082" stop-color="#0000d1"/>
<stop offset="0.9116" stop-color="#0000d0"/>
<stop offset="0.9150" stop-color="#0000d0"/>
<stop offset="0.9184" stop-color="#0000d1"/>
<stop offset="0.9218" stop-color="#0000d3"/>
<stop offset="0.9252" stop-color="#0000d6"/>
<stop offset="0.9286" stop-color="#0000d8"/>
<stop offset="0.9320" stop-color="#0000da"/>
<stop offset="0.9354" stop-color="#0000db"/>
<stop offset="0.9388" stop-color="#0000db"/>
<stop offset="0.9422" stop-color="#0000db"/>
<stop offset="0.9456" stop-color="#0000da"/>
<stop offset="0.9490" stop-color="#0000d9"/>
<stop offset="0.9524" stop-color="#0000d8"/>
<stop offset="0.9558" stop-color="#0000d8"/>
<stop offset="0.9592" stop-color="#0000d8"/>
<stop offset="0.9626" stop-color="#0000da"/>
<stop offset="0.9660" stop-color="#0000db"/>
<stop offset="0.9694" stop-color="#0000de"/>
<stop offset="0.9728" stop-color="#0000e0"/>
<stop offset="0.9762" stop-color="#0000e1"/>
<stop offset="0.9796" stop-color="#0000e2"/>
<stop offset="0.9830" stop-color="#0000e1"/>
<stop offset="0.9864" stop-color="#0000df"/>
<stop offset="0.9898" stop-color="#0000dc"/>
<stop offset="0.9932" stop-color="#0000d9"/>
<stop offset="0.9966" stop-color="#0000d4"/>
<stop offset="1.0000" stop-color="#0000cf"/>
</linearGradient>
<linearGradient id="gvm" gradientUnits="userSpaceOnUse" x1="1696.7" x2="1772.7" y1="0" y2="0">
<stop offset="0.0000" stop-color="#fff" stop-opacity="0.004"/>
<stop offset="0.0263" stop-color="#fff" stop-opacity="0.007"/>
<stop offset="0.0526" stop-color="#fff" stop-opacity="0.013"/>
<stop offset="0.0789" stop-color="#fff" stop-opacity="0.021"/>
<stop offset="0.1053" stop-color="#fff" stop-opacity="0.033"/>
<stop offset="0.1316" stop-color="#fff" stop-opacity="0.052"/>
<stop offset="0.1579" stop-color="#fff" stop-opacity="0.078"/>
<stop offset="0.1842" stop-color="#fff" stop-opacity="0.113"/>
<stop offset="0.2105" stop-color="#fff" stop-opacity="0.160"/>
<stop offset="0.2368" stop-color="#fff" stop-opacity="0.220"/>
<stop offset="0.2632" stop-color="#fff" stop-opacity="0.294"/>
<stop offset="0.2895" stop-color="#fff" stop-opacity="0.380"/>
<stop offset="0.3158" stop-color="#fff" stop-opacity="0.477"/>
<stop offset="0.3421" stop-color="#fff" stop-opacity="0.580"/>
<stop offset="0.3684" stop-color="#fff" stop-opacity="0.685"/>
<stop offset="0.3947" stop-color="#fff" stop-opacity="0.785"/>
<stop offset="0.4211" stop-color="#fff" stop-opacity="0.873"/>
<stop offset="0.4474" stop-color="#fff" stop-opacity="0.941"/>
<stop offset="0.4737" stop-color="#fff" stop-opacity="0.985"/>
<stop offset="0.5000" stop-color="#fff" stop-opacity="1.000"/>
<stop offset="0.5263" stop-color="#fff" stop-opacity="0.985"/>
<stop offset="0.5526" stop-color="#fff" stop-opacity="0.941"/>
<stop offset="0.5789" stop-color="#fff" stop-opacity="0.873"/>
<stop offset="0.6053" stop-color="#fff" stop-opacity="0.785"/>
<stop offset="0.6316" stop-color="#fff" stop-opacity="0.685"/>
<stop offset="0.6579" stop-color="#fff" stop-opacity="0.580"/>
<stop offset="0.6842" stop-color="#fff" stop-opacity="0.477"/>
<stop offset="0.7105" stop-color="#fff" stop-opacity="0.380"/>
<stop offset="0.7368" stop-color="#fff" stop-opacity="0.294"/>
<stop offset="0.7632" stop-color="#fff" stop-opacity="0.220"/>
<stop offset="0.7895" stop-color="#fff" stop-opacity="0.160"/>
<stop offset="0.8158" stop-color="#fff" stop-opacity="0.113"/>
<stop offset="0.8421" stop-color="#fff" stop-opacity="0.078"/>
<stop offset="0.8684" stop-color="#fff" stop-opacity="0.052"/>
<stop offset="0.8947" stop-color="#fff" stop-opacity="0.033"/>
<stop offset="0.9211" stop-color="#fff" stop-opacity="0.021"/>
<stop offset="0.9474" stop-color="#fff" stop-opacity="0.013"/>
<stop offset="0.9737" stop-color="#fff" stop-opacity="0.007"/>
<stop offset="1.0000" stop-color="#fff" stop-opacity="0.004"/>
</linearGradient>
<mask id="mv" maskUnits="userSpaceOnUse" x="1696.7" y="82" width="76" height="735"><rect x="1696.7" y="82" width="76" height="735" fill="url(#gvm)"/></mask>
<radialGradient id="gm" cx="0.5" cy="0.5" r="0.5">
<stop offset="0.000" stop-color="#800000" stop-opacity="1.00"/>
<stop offset="0.111" stop-color="#960000" stop-opacity="1.00"/>
<stop offset="0.222" stop-color="#d70000" stop-opacity="1.00"/>
<stop offset="0.278" stop-color="#ff0a00" stop-opacity="1.00"/>
<stop offset="0.348" stop-color="#ff8000" stop-opacity="1.00"/>
<stop offset="0.430" stop-color="#ffff00" stop-opacity="1.00"/>
<stop offset="0.515" stop-color="#80ff80" stop-opacity="1.00"/>
<stop offset="0.600" stop-color="#00ffff" stop-opacity="1.00"/>
<stop offset="0.667" stop-color="#0080ff" stop-opacity="1.00"/>
<stop offset="0.733" stop-color="#000aff" stop-opacity="0.95"/>
<stop offset="0.833" stop-color="#0000ff" stop-opacity="0.55"/>
<stop offset="0.926" stop-color="#0000ff" stop-opacity="0.20"/>
<stop offset="1.000" stop-color="#0000ff" stop-opacity="0.00"/>
</radialGradient>
<clipPath id="cu"><rect x="1674.7" y="371.5" width="120" height="61"/></clipPath>
<clipPath id="cd"><rect x="1674.7" y="431" width="120" height="70"/></clipPath>
<clipPath id="cb"><rect x="1260" y="82" width="971" height="735"/></clipPath>
<clipPath id="cc"><rect x="120" y="1036" width="930" height="694"/></clipPath>
<clipPath id="cdd"><rect x="1288" y="1036" width="930" height="694"/></clipPath>
</defs>
<g id="panel-a">
<rect x="93" y="82" width="955" height="735" fill="url(#ga)"/>
<rect x="93" y="82" width="955" height="735" filter="url(#nz)" opacity="0.4"/>
<rect x="93" y="82" width="955" height="735" filter="url(#nd)" opacity="0.4"/>
<g mask="url(#ms)"><rect x="93" y="82" width="955" height="735" fill="#4672f0" opacity="0.26"/><rect x="93" y="82" width="955" height="735" filter="url(#nst)" opacity="0.5"/></g>
</g>
<g id="panel-b" clip-path="url(#cb)">
<rect x="1260" y="82" width="971" height="735" fill="#00008f"/>
<rect x="1696.7" y="82" width="76" height="735" fill="url(#gv)" mask="url(#mv)"/>
<rect x="1260" y="381.5" width="971" height="120" fill="url(#gh)" mask="url(#mh)"/>
<ellipse cx="1734.7" cy="431.5" rx="27" ry="33.5" fill="url(#gm)" clip-path="url(#cu)"/>
<ellipse cx="1734.7" cy="431.5" rx="27" ry="41" fill="url(#gm)" clip-path="url(#cd)"/>
</g>
<g>
<rect x="92" y="26.9" width="170" height="5.2" fill="#000"/>
<path d="M258.5 12.3L308.5 29.5L258.5 46.8Z" fill="#000"/>
<text class="se" x="178.5" y="64.5" font-size="40" text-anchor="middle">Range</text>
<rect x="63.5" y="80" width="5.2" height="142" fill="#000"/>
<path d="M49.3 218.3L66.1 269L82.9 218.3Z" fill="#000"/>
<text class="se" font-size="40" text-anchor="middle" transform="translate(20.2 143.3) rotate(90)">Azimuth</text>
</g>
<g>
<rect x="1258.3" y="26.9" width="170" height="5.2" fill="#000"/>
<path d="M1424.8 12.3L1474.8 29.5L1424.8 46.8Z" fill="#000"/>
<text class="se" x="1344.8" y="64.5" font-size="40" text-anchor="middle">Range</text>
<rect x="1229.8" y="80" width="5.2" height="142" fill="#000"/>
<path d="M1215.6 218.3L1232.4 269L1249.2 218.3Z" fill="#000"/>
<text class="se" font-size="40" text-anchor="middle" transform="translate(1186.5 143.3) rotate(90)">Azimuth</text>
</g>
<text class="se" x="546.4" y="938.7" font-size="56" text-anchor="middle">(a)</text>
<text class="se" x="1713" y="938.7" font-size="56" text-anchor="middle">(b)</text>
<text class="se" x="546.4" y="1885.3" font-size="56" text-anchor="middle">(c)</text>
<text class="se" x="1713" y="1885.3" font-size="56" text-anchor="middle">(d)</text>
<g>
<rect x="256.3" y="1040.9" width="1.7" height="684.8" fill="#dfdfdf"/>
<rect x="387.5" y="1040.9" width="1.7" height="684.8" fill="#dfdfdf"/>
<rect x="518.6" y="1040.9" width="1.7" height="684.8" fill="#dfdfdf"/>
<rect x="649.8" y="1040.9" width="1.7" height="684.8" fill="#dfdfdf"/>
<rect x="780.9" y="1040.9" width="1.7" height="684.8" fill="#dfdfdf"/>
<rect x="912.1" y="1040.9" width="1.7" height="684.8" fill="#dfdfdf"/>
<rect x="126" y="1107.8" width="918.1" height="2.3" fill="#e5e5e5"/>
<rect x="126" y="1175.8" width="918.1" height="2.3" fill="#e5e5e5"/>
<rect x="126" y="1244.0" width="918.1" height="2.3" fill="#e5e5e5"/>
<rect x="126" y="1313.2" width="918.1" height="2.3" fill="#e5e5e5"/>
<rect x="126" y="1381.8" width="918.1" height="2.3" fill="#e5e5e5"/>
<rect x="126" y="1449.7" width="918.1" height="2.3" fill="#e5e5e5"/>
<rect x="126" y="1517.5" width="918.1" height="2.3" fill="#e5e5e5"/>
<rect x="126" y="1586.1" width="918.1" height="2.3" fill="#e5e5e5"/>
<rect x="126" y="1655.6" width="918.1" height="2.3" fill="#e5e5e5"/>
<rect x="256.0" y="1715.7" width="2.4" height="9.5" fill="#6f6f6f"/>
<rect x="256.0" y="1041.9" width="2.4" height="9.5" fill="#6f6f6f"/>
<rect x="387.1" y="1715.7" width="2.4" height="9.5" fill="#6f6f6f"/>
<rect x="387.1" y="1041.9" width="2.4" height="9.5" fill="#6f6f6f"/>
<rect x="518.3" y="1715.7" width="2.4" height="9.5" fill="#6f6f6f"/>
<rect x="518.3" y="1041.9" width="2.4" height="9.5" fill="#6f6f6f"/>
<rect x="649.4" y="1715.7" width="2.4" height="9.5" fill="#6f6f6f"/>
<rect x="649.4" y="1041.9" width="2.4" height="9.5" fill="#6f6f6f"/>
<rect x="780.6" y="1715.7" width="2.4" height="9.5" fill="#6f6f6f"/>
<rect x="780.6" y="1041.9" width="2.4" height="9.5" fill="#6f6f6f"/>
<rect x="911.7" y="1715.7" width="2.4" height="9.5" fill="#6f6f6f"/>
<rect x="911.7" y="1041.9" width="2.4" height="9.5" fill="#6f6f6f"/>
<rect x="127.0" y="1107.6" width="9" height="2.6" fill="#6f6f6f"/>
<rect x="1034.1" y="1107.6" width="9" height="2.6" fill="#6f6f6f"/>
<rect x="127.0" y="1175.6" width="9" height="2.6" fill="#6f6f6f"/>
<rect x="1034.1" y="1175.6" width="9" height="2.6" fill="#6f6f6f"/>
<rect x="127.0" y="1243.8" width="9" height="2.6" fill="#6f6f6f"/>
<rect x="1034.1" y="1243.8" width="9" height="2.6" fill="#6f6f6f"/>
<rect x="127.0" y="1313.0" width="9" height="2.6" fill="#6f6f6f"/>
<rect x="1034.1" y="1313.0" width="9" height="2.6" fill="#6f6f6f"/>
<rect x="127.0" y="1381.6" width="9" height="2.6" fill="#6f6f6f"/>
<rect x="1034.1" y="1381.6" width="9" height="2.6" fill="#6f6f6f"/>
<rect x="127.0" y="1449.4" width="9" height="2.6" fill="#6f6f6f"/>
<rect x="1034.1" y="1449.4" width="9" height="2.6" fill="#6f6f6f"/>
<rect x="127.0" y="1517.2" width="9" height="2.6" fill="#6f6f6f"/>
<rect x="1034.1" y="1517.2" width="9" height="2.6" fill="#6f6f6f"/>
<rect x="127.0" y="1585.8" width="9" height="2.6" fill="#6f6f6f"/>
<rect x="1034.1" y="1585.8" width="9" height="2.6" fill="#6f6f6f"/>
<rect x="127.0" y="1655.4" width="9" height="2.6" fill="#6f6f6f"/>
<rect x="1034.1" y="1655.4" width="9" height="2.6" fill="#6f6f6f"/>
<rect x="124.1" y="1039.3" width="921.9" height="3.2" fill="#989898"/>
<rect x="124.2" y="1039.1" width="1.8" height="687.5" fill="#b0b0b0"/>
<rect x="126.0" y="1039.1" width="1.9" height="687.5" fill="#909090"/>
<rect x="1042.3" y="1039.1" width="2" height="687.5" fill="#808080"/>
<rect x="1044.3" y="1039.1" width="1.8" height="687.5" fill="#a8a8a8"/>
<rect x="124.2" y="1724.8" width="921.7" height="2" fill="#6e6e6e"/>
<text class="tk" x="126.0" y="1761.6" text-anchor="middle">0</text>
<text class="tk" x="257.2" y="1761.6" text-anchor="middle">100</text>
<text class="tk" x="388.3" y="1761.6" text-anchor="middle">200</text>
<text class="tk" x="519.5" y="1761.6" text-anchor="middle">300</text>
<text class="tk" x="650.6" y="1761.6" text-anchor="middle">400</text>
<text class="tk" x="781.8" y="1761.6" text-anchor="middle">500</text>
<text class="tk" x="912.9" y="1761.6" text-anchor="middle">600</text>
<text class="tk" x="1044.1" y="1761.6" text-anchor="middle">700</text>
<text class="tk" x="116.4" y="1050.8" text-anchor="end">0</text>
<text class="tk" x="116.4" y="1118.9" text-anchor="end">5</text>
<text class="tk" text-anchor="end" transform="translate(101.3 1118.9) scale(1.14 1)">−</text>
<text class="tk" x="116.4" y="1186.9" text-anchor="end">10</text>
<text class="tk" text-anchor="end" transform="translate(87.4 1186.9) scale(1.14 1)">−</text>
<text class="tk" x="116.4" y="1255.1" text-anchor="end">15</text>
<text class="tk" text-anchor="end" transform="translate(87.4 1255.1) scale(1.14 1)">−</text>
<text class="tk" x="116.4" y="1324.3" text-anchor="end">20</text>
<text class="tk" text-anchor="end" transform="translate(87.4 1324.3) scale(1.14 1)">−</text>
<text class="tk" x="116.4" y="1392.9" text-anchor="end">25</text>
<text class="tk" text-anchor="end" transform="translate(87.4 1392.9) scale(1.14 1)">−</text>
<text class="tk" x="116.4" y="1460.8" text-anchor="end">30</text>
<text class="tk" text-anchor="end" transform="translate(87.4 1460.8) scale(1.14 1)">−</text>
<text class="tk" x="116.4" y="1528.6" text-anchor="end">35</text>
<text class="tk" text-anchor="end" transform="translate(87.4 1528.6) scale(1.14 1)">−</text>
<text class="tk" x="116.4" y="1597.2" text-anchor="end">40</text>
<text class="tk" text-anchor="end" transform="translate(87.4 1597.2) scale(1.14 1)">−</text>
<text class="tk" x="116.4" y="1666.7" text-anchor="end">45</text>
<text class="tk" text-anchor="end" transform="translate(87.4 1666.7) scale(1.14 1)">−</text>
<text class="tk" x="116.4" y="1735.6" text-anchor="end">50</text>
<text class="tk" text-anchor="end" transform="translate(87.4 1735.6) scale(1.14 1)">−</text>
<text class="lb" x="585.0" y="1797.3" text-anchor="middle">Azimuth Direction</text>
<text class="lb" text-anchor="middle" transform="translate(55.2 1383.3) rotate(-90)">Amplitude/dB</text>
<path d="M127.6 1521.1L128.1 1522.6L128.6 1524.1L129 1525.6L129.5 1527.2L129.9 1528.7L130.4 1530.3L130.9 1531.9L131.3 1533.4L131.8 1535L132.2 1536.6L132.7 1538.2L133.1 1539.8L133.6 1541.5L134.1 1543.1L134.5 1544.8L135 1546.4L135.4 1548.1L135.9 1549.7L136.4 1551.3L136.8 1552.9L137.3 1554.5L137.7 1556L138.2 1557.5L138.7 1558.9L139.1 1560.2L139.6 1561.4L140 1562.5L140.5 1563.6L141 1564.5L141.4 1565.2L141.9 1565.9L142.3 1566.4L142.8 1566.7L143.2 1566.8L143.7 1566.7L144.2 1566.2L144.6 1565.2L145.1 1563.8L145.5 1561.7L146 1559.1L146.5 1556.1L146.9 1552.7L147.4 1549.3L147.8 1545.8L148.3 1542.4L148.8 1539.2L149.2 1536.1L149.7 1533.2L150.1 1530.5L150.6 1527.9L151.1 1525.3L151.5 1522.9L152 1520.6L152.4 1518.3L152.9 1516L153.3 1513.8L153.8 1511.7L154.3 1509.6L154.7 1507.5L155.2 1505.4L155.6 1503.4L156.1 1501.4L156.6 1499.4L157 1497.5L157.5 1495.6L157.9 1493.7L158.4 1491.8L158.9 1490L159.3 1488.1L159.8 1486.3L160.2 1484.5L160.7 1482.7L161.2 1481L161.6 1479.2L162.1 1477.6L162.5 1475.9L163 1474.3L163.4 1472.8L163.9 1471.4L164.4 1470.1L164.8 1468.8L165.3 1467.6L165.7 1466.5L166.2 1465.5L166.7 1464.6L167.1 1463.7L167.6 1463L168 1462.3L168.5 1461.7L169 1461.1L169.4 1460.7L169.9 1460.3L170.3 1460L170.8 1459.8L171.2 1459.6L171.7 1459.5L172.2 1459.5L172.6 1459.5L173.1 1459.6L173.5 1459.8L174 1460.1L174.5 1460.4L174.9 1460.8L175.4 1461.2L175.8 1461.7L176.3 1462.3L176.8 1462.9L177.2 1463.5L177.7 1464.3L178.1 1465.1L178.6 1465.9L179.1 1466.8L179.5 1467.8L180 1468.8L180.4 1469.9L180.9 1471L181.3 1472.1L181.8 1473.3L182.3 1474.6L182.7 1475.9L183.2 1477.2L183.6 1478.6L184.1 1480L184.6 1481.5L185 1483L185.5 1484.6L185.9 1486.2L186.4 1487.8L186.9 1489.5L187.3 1491.2L187.8 1492.9L188.2 1494.7L188.7 1496.5L189.2 1498.3L189.6 1500.2L190.1 1502.1L190.5 1504L191 1505.9L191.4 1507.9L191.9 1509.9L192.4 1511.9L192.8 1514L193.3 1516L193.7 1518.1L194.2 1520.3L194.7 1522.4L195.1 1524.5L195.6 1526.6L196 1528.6L196.5 1530.6L197 1532.5L197.4 1534.2L197.9 1535.9L198.3 1537.3L198.8 1538.6L199.3 1539.7L199.7 1540.6L200.2 1541.3L200.6 1541.8L201.1 1542.1L201.5 1542.2L202 1542.2L202.5 1542.1L202.9 1541.9L203.4 1541.7L203.8 1541.3L204.3 1540.9L204.8 1540.4L205.2 1539.9L205.7 1539.3L206.1 1538.7L206.6 1538L207.1 1537.3L207.5 1536.6L208 1535.8L208.4 1535.1L208.9 1534.3L209.4 1533.5L209.8 1532.8L210.3 1532L210.7 1531.3L211.2 1530.6L211.6 1530L212.1 1529.4L212.6 1528.8L213 1528.3L213.5 1527.9L213.9 1527.5L214.4 1527.2L214.9 1526.9L215.3 1526.7L215.8 1526.6L216.2 1526.6L216.7 1526.6L217.2 1526.7L217.6 1526.9L218.1 1527.2L218.5 1527.5L219 1527.9L219.4 1528.3L219.9 1528.9L220.4 1529.5L220.8 1530.1L221.3 1530.9L221.7 1531.7L222.2 1532.7L222.7 1533.7L223.1 1534.7L223.6 1535.9L224 1537.2L224.5 1538.5L225 1540L225.4 1541.5L225.9 1543.1L226.3 1544.9L226.8 1546.7L227.3 1548.6L227.7 1550.7L228.2 1552.8L228.6 1555L229.1 1557.4L229.5 1559.8L230 1562.4L230.5 1565.1L230.9 1567.9L231.4 1570.8L231.8 1573.9L232.3 1577.2L232.8 1580.6L233.2 1584.2L233.7 1588L234.1 1592.1L234.6 1596.3L235.1 1600.3L235.5 1603.9L236 1607L236.4 1609.2L236.9 1610.6L237.4 1611.4L237.8 1611.5L238.3 1611L238.7 1610L239.2 1608.4L239.6 1606.4L240.1 1603.9L240.6 1601.1L241 1597.9L241.5 1594.4L241.9 1590.6L242.4 1586.6L242.9 1582.5L243.3 1578.2L243.8 1573.9L244.2 1569.5L244.7 1565.1L245.2 1560.7L245.6 1556.4L246.1 1552.1L246.5 1548.1L247 1544.2L247.5 1540.6L247.9 1537.3L248.4 1534.1L248.8 1531.2L249.3 1528.4L249.7 1525.8L250.2 1523.4L250.7 1521L251.1 1518.7L251.6 1516.5L252 1514.3L252.5 1512.2L253 1510.2L253.4 1508.2L253.9 1506.3L254.3 1504.5L254.8 1502.7L255.3 1501L255.7 1499.3L256.2 1497.7L256.6 1496.2L257.1 1494.7L257.6 1493.3L258 1492L258.5 1490.7L258.9 1489.5L259.4 1488.4L259.8 1487.4L260.3 1486.4L260.8 1485.4L261.2 1484.6L261.7 1483.8L262.1 1483.1L262.6 1482.4L263.1 1481.9L263.5 1481.4L264 1480.9L264.4 1480.6L264.9 1480.3L265.4 1480.1L265.8 1479.9L266.3 1479.9L266.7 1479.9L267.2 1479.9L267.6 1480.1L268.1 1480.3L268.6 1480.5L269 1480.9L269.5 1481.3L269.9 1481.8L270.4 1482.3L270.9 1482.9L271.3 1483.6L271.8 1484.4L272.2 1485.2L272.7 1486.1L273.2 1487L273.6 1488L274.1 1489.1L274.5 1490.2L275 1491.4L275.5 1492.7L275.9 1494L276.4 1495.3L276.8 1496.8L277.3 1498.2L277.7 1499.7L278.2 1501.3L278.7 1502.9L279.1 1504.5L279.6 1506.1L280 1507.8L280.5 1509.5L281 1511.3L281.4 1513L281.9 1514.8L282.3 1516.6L282.8 1518.4L283.3 1520.2L283.7 1522L284.2 1523.9L284.6 1525.7L285.1 1527.5L285.6 1529.3L286 1531.1L286.5 1532.9L286.9 1534.7L287.4 1536.5L287.8 1538.2L288.3 1539.9L288.8 1541.6L289.2 1543.3L289.7 1544.9L290.1 1546.6L290.6 1548.2L291.1 1549.8L291.5 1551.5L292 1553.1L292.4 1554.7L292.9 1556.4L293.4 1558L293.8 1559.7L294.3 1561.4L294.7 1563.1L295.2 1564.8L295.7 1566.6L296.1 1568.3L296.6 1570.2L297 1572L297.5 1573.9L297.9 1575.8L298.4 1577.8L298.9 1579.8L299.3 1581.9L299.8 1584L300.2 1586.2L300.7 1588.5L301.2 1590.8L301.6 1593.2L302.1 1595.7L302.5 1598.3L303 1600.9L303.5 1603.6L303.9 1606.4L304.4 1609.3L304.8 1612.3L305.3 1615.3L305.8 1618.5L306.2 1621.8L306.7 1625.2L307.1 1628.7L307.6 1632.4L308 1636.3L308.5 1640.4L309 1644.8L309.4 1649.6L309.9 1654.6L310.3 1660L310.8 1665.8L311.3 1672L311.7 1678.6L312.2 1685.8L312.6 1693.5L313.1 1701.7L313.6 1710.5L314 1711.5L314.5 1711.5L314.9 1710.4L315.4 1708.3L315.8 1705.4L316.3 1701.6L316.8 1697.1L317.2 1691.9L317.7 1686.1L318.1 1679.7L318.6 1672.8L319.1 1665.5L319.5 1657.9L320 1649.9L320.4 1641.6L320.9 1633.2L321.4 1624.6L321.8 1616.1L322.3 1607.5L322.7 1599.1L323.2 1590.8L323.7 1582.8L324.1 1575.1L324.6 1567.7L325 1560.6L325.5 1553.8L325.9 1547.3L326.4 1541.1L326.9 1535.2L327.3 1529.7L327.8 1524.6L328.2 1519.8L328.7 1515.5L329.2 1511.5L329.6 1507.9L330.1 1504.6L330.5 1501.5L331 1498.8L331.5 1496.3L331.9 1494L332.4 1491.8L332.8 1489.9L333.3 1488.1L333.8 1486.4L334.2 1484.7L334.7 1483.2L335.1 1481.7L335.6 1480.2L336 1478.6L336.5 1477.1L337 1475.5L337.4 1473.9L337.9 1472.2L338.3 1470.6L338.8 1468.9L339.3 1467.3L339.7 1465.7L340.2 1464.2L340.6 1462.7L341.1 1461.2L341.6 1459.8L342 1458.5L342.5 1457.3L342.9 1456.2L343.4 1455.1L343.9 1454.2L344.3 1453.3L344.8 1452.4L345.2 1451.7L345.7 1451L346.1 1450.5L346.6 1449.9L347.1 1449.5L347.5 1449.1L348 1448.8L348.4 1448.5L348.9 1448.3L349.4 1448.2L349.8 1448.1L350.3 1448.1L350.7 1448.1L351.2 1448.2L351.7 1448.4L352.1 1448.5L352.6 1448.8L353 1449.1L353.5 1449.4L354 1449.7L354.4 1450.1L354.9 1450.5L355.3 1451L355.8 1451.4L356.2 1451.9L356.7 1452.4L357.2 1452.9L357.6 1453.4L358.1 1453.9L358.5 1454.4L359 1454.8L359.5 1455.3L359.9 1455.7L360.4 1456.1L360.8 1456.5L361.3 1456.8L361.8 1457.1L362.2 1457.3L362.7 1457.5L363.1 1457.7L363.6 1457.8L364.1 1457.8L364.5 1457.7L365 1457.5L365.4 1457.2L365.9 1456.7L366.3 1456L366.8 1455.2L367.3 1454.1L367.7 1453L368.2 1451.7L368.6 1450.2L369.1 1448.6L369.6 1446.9L370 1445.1L370.5 1443.2L370.9 1441.3L371.4 1439.2L371.9 1437.1L372.3 1435L372.8 1432.8L373.2 1430.6L373.7 1428.4L374.1 1426.1L374.6 1423.9L375.1 1421.7L375.5 1419.5L376 1417.4L376.4 1415.3L376.9 1413.2L377.4 1411.3L377.8 1409.4L378.3 1407.5L378.7 1405.8L379.2 1404.1L379.7 1402.4L380.1 1400.9L380.6 1399.3L381 1397.9L381.5 1396.5L382 1395.2L382.4 1393.9L382.9 1392.7L383.3 1391.6L383.8 1390.5L384.2 1389.5L384.7 1388.5L385.2 1387.6L385.6 1386.7L386.1 1385.9L386.5 1385.2L387 1384.5L387.5 1383.8L387.9 1383.2L388.4 1382.6L388.8 1382.1L389.3 1381.7L389.8 1381.2L390.2 1380.8L390.7 1380.5L391.1 1380.2L391.6 1379.9L392.1 1379.7L392.5 1379.5L393 1379.3L393.4 1379.2L393.9 1379.1L394.3 1379L394.8 1379L395.3 1378.9L395.7 1378.9L396.2 1379L396.6 1379L397.1 1379.1L397.6 1379.2L398 1379.3L398.5 1379.5L398.9 1379.7L399.4 1380L399.9 1380.3L400.3 1380.6L400.8 1380.9L401.2 1381.4L401.7 1381.8L402.2 1382.3L402.6 1382.9L403.1 1383.5L403.5 1384.1L404 1384.9L404.4 1385.6L404.9 1386.5L405.4 1387.4L405.8 1388.3L406.3 1389.3L406.7 1390.4L407.2 1391.6L407.7 1392.8L408.1 1394.1L408.6 1395.4L409 1396.8L409.5 1398.2L410 1399.6L410.4 1401.1L410.9 1402.5L411.3 1404L411.8 1405.4L412.3 1406.8L412.7 1408.2L413.2 1409.6L413.6 1410.9L414.1 1412.2L414.5 1413.5L415 1414.6L415.5 1415.7L415.9 1416.8L416.4 1417.7L416.8 1418.5L417.3 1419.3L417.8 1419.9L418.2 1420.4L418.7 1420.8L419.1 1421.1L419.6 1421.3L420.1 1421.4L420.5 1421.4L421 1421.2L421.4 1421L421.9 1420.7L422.3 1420.3L422.8 1419.8L423.3 1419.2L423.7 1418.6L424.2 1417.9L424.6 1417.1L425.1 1416.2L425.6 1415.2L426 1414.2L426.5 1413.1L426.9 1412L427.4 1410.8L427.9 1409.5L428.3 1408.2L428.8 1406.8L429.2 1405.4L429.7 1404L430.2 1402.5L430.6 1401L431.1 1399.5L431.5 1397.9L432 1396.4L432.4 1394.8L432.9 1393.2L433.4 1391.6L433.8 1390L434.3 1388.4L434.7 1386.8L435.2 1385.3L435.7 1383.7L436.1 1382.2L436.6 1380.6L437 1379.1L437.5 1377.7L438 1376.3L438.4 1374.9L438.9 1373.6L439.3 1372.3L439.8 1371L440.3 1369.9L440.7 1368.8L441.2 1367.8L441.6 1366.8L442.1 1365.9L442.5 1365.1L443 1364.4L443.5 1363.7L443.9 1363.1L444.4 1362.6L444.8 1362.1L445.3 1361.7L445.8 1361.3L446.2 1361L446.7 1360.7L447.1 1360.4L447.6 1360.2L448.1 1360L448.5 1359.9L449 1359.7L449.4 1359.6L449.9 1359.5L450.4 1359.4L450.8 1359.4L451.3 1359.3L451.7 1359.2L452.2 1359.2L452.6 1359.1L453.1 1359L453.6 1358.9L454 1358.8L454.5 1358.7L454.9 1358.5L455.4 1358.4L455.9 1358.1L456.3 1357.9L456.8 1357.6L457.2 1357.3L457.7 1356.9L458.2 1356.5L458.6 1356.1L459.1 1355.5L459.5 1354.9L460 1354.3L460.5 1353.6L460.9 1352.8L461.4 1351.9L461.8 1351L462.3 1350L462.7 1348.9L463.2 1347.7L463.7 1346.4L464.1 1345.1L464.6 1343.6L465 1342.1L465.5 1340.5L466 1338.9L466.4 1337.1L466.9 1335.4L467.3 1333.6L467.8 1331.7L468.3 1329.8L468.7 1327.9L469.2 1325.9L469.6 1324L470.1 1322L470.5 1320L471 1317.9L471.5 1315.9L471.9 1313.9L472.4 1311.9L472.8 1309.9L473.3 1307.9L473.8 1305.9L474.2 1304L474.7 1302.1L475.1 1300.2L475.6 1298.3L476.1 1296.5L476.5 1294.7L477 1292.9L477.4 1291.2L477.9 1289.5L478.4 1287.8L478.8 1286.2L479.3 1284.6L479.7 1283L480.2 1281.5L480.6 1280L481.1 1278.5L481.6 1277.1L482 1275.7L482.5 1274.4L482.9 1273.1L483.4 1271.8L483.9 1270.6L484.3 1269.5L484.8 1268.3L485.2 1267.2L485.7 1266.2L486.2 1265.2L486.6 1264.2L487.1 1263.3L487.5 1262.5L488 1261.7L488.5 1260.9L488.9 1260.2L489.4 1259.5L489.8 1258.9L490.3 1258.4L490.7 1257.9L491.2 1257.4L491.7 1257L492.1 1256.7L492.6 1256.4L493 1256.1L493.5 1255.9L494 1255.7L494.4 1255.5L494.9 1255.4L495.3 1255.3L495.8 1255.2L496.3 1255.1L496.7 1255.1L497.2 1255L497.6 1255L498.1 1255L498.6 1254.9L499 1254.9L499.5 1254.9L499.9 1254.8L500.4 1254.8L500.8 1254.7L501.3 1254.6L501.8 1254.5L502.2 1254.4L502.7 1254.2L503.1 1254L503.6 1253.8L504.1 1253.5L504.5 1253.2L505 1252.9L505.4 1252.4L505.9 1252L506.4 1251.5L506.8 1250.9L507.3 1250.3L507.7 1249.6L508.2 1248.8L508.7 1248L509.1 1247.1L509.6 1246.2L510 1245.1L510.5 1244.1L510.9 1242.9L511.4 1241.7L511.9 1240.4L512.3 1239L512.8 1237.5L513.2 1235.9L513.7 1234.3L514.2 1232.6L514.6 1230.8L515.1 1228.9L515.5 1226.9L516 1224.8L516.5 1222.7L516.9 1220.4L517.4 1218.1L517.8 1215.6L518.3 1213.1L518.8 1210.5L519.2 1207.8L519.7 1205L520.1 1202.1L520.6 1199.2L521 1196.2L521.5 1193.1L522 1189.9L522.4 1186.7L522.9 1183.5L523.3 1180.2L523.8 1177L524.3 1173.8L524.7 1170.7L525.2 1167.6L525.6 1164.5L526.1 1161.6L526.6 1158.7L527 1155.8L527.5 1153.1L527.9 1150.3L528.4 1147.7L528.8 1145.1L529.3 1142.6L529.8 1140.1L530.2 1137.6L530.7 1135.3L531.1 1132.9L531.6 1130.7L532.1 1128.5L532.5 1126.3L533 1124.2L533.4 1122.1L533.9 1120L534.4 1118L534.8 1116.1L535.3 1114.2L535.7 1112.3L536.2 1110.5L536.7 1108.7L537.1 1106.9L537.6 1105.2L538 1103.5L538.5 1101.8L538.9 1100.2L539.4 1098.6L539.9 1097L540.3 1095.5L540.8 1093.9L541.2 1092.4L541.7 1091L542.2 1089.5L542.6 1088.1L543.1 1086.7L543.5 1085.3L544 1083.9L544.5 1082.5L544.9 1081.2L545.4 1079.8L545.8 1078.5L546.3 1077.2L546.8 1075.9L547.2 1074.7L547.7 1073.4L548.1 1072.2L548.6 1071L549 1069.8L549.5 1068.6L550 1067.5L550.4 1066.3L550.9 1065.2L551.3 1064.1L551.8 1063L552.3 1062L552.7 1061L553.2 1060L553.6 1059L554.1 1058L554.6 1057.1L555 1056.2L555.5 1055.3L555.9 1054.4L556.4 1053.6L556.9 1052.7L557.3 1052L557.8 1051.2L558.2 1050.4L558.7 1049.7L559.1 1049L559.6 1048.4L560.1 1047.8L560.5 1047.1L561 1046.6L561.4 1046L561.9 1045.5L562.4 1045L562.8 1044.5L563.3 1044.1L563.7 1043.7L564.2 1043.3L564.7 1043L565.1 1042.6L565.6 1042.3L566 1042.1L566.5 1041.8L567 1041.6L567.4 1041.4L567.9 1041.3L568.3 1041.1L568.8 1041L569.2 1041L569.7 1040.9L570.2 1040.9L570.6 1040.9L571.1 1041L571.5 1041L572 1041.1L572.5 1041.3L572.9 1041.4L573.4 1041.6L573.8 1041.8L574.3 1042.1L574.8 1042.4L575.2 1042.7L575.7 1043L576.1 1043.4L576.6 1043.8L577 1044.2L577.5 1044.6L578 1045.1L578.4 1045.6L578.9 1046.2L579.3 1046.7L579.8 1047.4L580.3 1048L580.7 1048.6L581.2 1049.3L581.6 1050.1L582.1 1050.8L582.6 1051.6L583 1052.4L583.5 1053.2L583.9 1054.1L584.4 1055L584.9 1056L585.3 1056.9L585.8 1057.9L586.2 1058.9L586.7 1060L587.1 1061.1L587.6 1062.2L588.1 1063.3L588.5 1064.5L589 1065.7L589.4 1067L589.9 1068.2L590.4 1069.5L590.8 1070.9L591.3 1072.3L591.7 1073.7L592.2 1075.1L592.7 1076.6L593.1 1078.1L593.6 1079.6L594 1081.2L594.5 1082.8L595 1084.5L595.4 1086.1L595.9 1087.9L596.3 1089.6L596.8 1091.4L597.2 1093.3L597.7 1095.1L598.2 1097.1L598.6 1099L599.1 1101L599.5 1103L600 1105.1L600.5 1107.2L600.9 1109.4L601.4 1111.6L601.8 1113.8L602.3 1116.1L602.8 1118.4L603.2 1120.7L603.7 1123L604.1 1125.4L604.6 1127.8L605.1 1130.2L605.5 1132.6L606 1135L606.4 1137.5L606.9 1139.9L607.3 1142.4L607.8 1144.8L608.3 1147.3L608.7 1149.8L609.2 1152.2L609.6 1154.7L610.1 1157.2L610.6 1159.7L611 1162.2L611.5 1164.7L611.9 1167.2L612.4 1169.6L612.9 1172.1L613.3 1174.6L613.8 1177.1L614.2 1179.6L614.7 1182L615.2 1184.5L615.6 1186.9L616.1 1189.3L616.5 1191.7L617 1194L617.4 1196.2L617.9 1198.3L618.4 1200.4L618.8 1202.3L619.3 1204.1L619.7 1205.8L620.2 1207.4L620.7 1208.7L621.1 1210L621.6 1211L622 1211.9L622.5 1212.5L623 1213L623.4 1213.2L623.9 1213.4L624.3 1213.4L624.8 1213.3L625.2 1213.2L625.7 1213L626.2 1212.7L626.6 1212.4L627.1 1212.1L627.5 1211.7L628 1211.3L628.5 1211L628.9 1210.6L629.4 1210.2L629.8 1209.9L630.3 1209.5L630.8 1209.1L631.2 1208.8L631.7 1208.4L632.1 1208.1L632.6 1207.8L633.1 1207.5L633.5 1207.2L634 1206.9L634.4 1206.6L634.9 1206.4L635.3 1206.2L635.8 1206L636.3 1205.9L636.7 1205.7L637.2 1205.6L637.6 1205.6L638.1 1205.6L638.6 1205.6L639 1205.7L639.5 1205.8L639.9 1205.9L640.4 1206.1L640.9 1206.4L641.3 1206.6L641.8 1207L642.2 1207.4L642.7 1207.8L643.2 1208.3L643.6 1208.9L644.1 1209.5L644.5 1210.2L645 1210.9L645.4 1211.7L645.9 1212.6L646.4 1213.5L646.8 1214.5L647.3 1215.6L647.7 1216.7L648.2 1217.9L648.7 1219.2L649.1 1220.5L649.6 1221.9L650 1223.4L650.5 1225L651 1226.6L651.4 1228.3L651.9 1230.1L652.3 1232L652.8 1234L653.3 1236L653.7 1238.1L654.2 1240.3L654.6 1242.5L655.1 1244.8L655.5 1247.2L656 1249.6L656.5 1252.1L656.9 1254.6L657.4 1257.1L657.8 1259.7L658.3 1262.3L658.8 1265L659.2 1267.7L659.7 1270.6L660.1 1273.6L660.6 1276.8L661.1 1280.1L661.5 1283.6L662 1287.4L662.4 1291.2L662.9 1295.1L663.4 1299L663.8 1302.9L664.3 1306.6L664.7 1310.1L665.2 1313.4L665.6 1316.5L666.1 1319.3L666.6 1321.8L667 1324.1L667.5 1326.2L667.9 1328.1L668.4 1329.8L668.9 1331.3L669.3 1332.6L669.8 1333.7L670.2 1334.7L670.7 1335.5L671.2 1336.1L671.6 1336.7L672.1 1337.1L672.5 1337.3L673 1337.5L673.4 1337.5L673.9 1337.5L674.4 1337.3L674.8 1337.1L675.3 1336.8L675.7 1336.5L676.2 1336L676.7 1335.5L677.1 1335L677.6 1334.4L678 1333.8L678.5 1333.2L679 1332.5L679.4 1331.9L679.9 1331.2L680.3 1330.5L680.8 1329.8L681.3 1329.1L681.7 1328.5L682.2 1327.8L682.6 1327.2L683.1 1326.6L683.5 1326.1L684 1325.6L684.5 1325.2L684.9 1324.8L685.4 1324.5L685.8 1324.2L686.3 1324L686.8 1323.9L687.2 1323.9L687.7 1324L688.1 1324.1L688.6 1324.3L689.1 1324.6L689.5 1325L690 1325.4L690.4 1326L690.9 1326.7L691.4 1327.5L691.8 1328.3L692.3 1329.3L692.7 1330.4L693.2 1331.6L693.6 1332.9L694.1 1334.3L694.6 1335.8L695 1337.5L695.5 1339.3L695.9 1341.1L696.4 1343.2L696.9 1345.3L697.3 1347.6L697.8 1350L698.2 1352.6L698.7 1355.3L699.2 1358.1L699.6 1361L700.1 1364.2L700.5 1367.4L701 1370.8L701.5 1374.3L701.9 1377.9L702.4 1381.5L702.8 1385.2L703.3 1389L703.7 1392.8L704.2 1396.6L704.7 1400.4L705.1 1404.2L705.6 1408L706 1411.8L706.5 1415.6L707 1419.3L707.4 1422.9L707.9 1426.4L708.3 1429.9L708.8 1433.2L709.3 1436.4L709.7 1439.5L710.2 1442.4L710.6 1445L711.1 1447.4L711.6 1449.5L712 1451.2L712.5 1452.5L712.9 1453.4L713.4 1454L713.8 1454.3L714.3 1454.2L714.8 1453.8L715.2 1453.1L715.7 1452L716.1 1450.5L716.6 1448.5L717.1 1446.2L717.5 1443.5L718 1440.6L718.4 1437.5L718.9 1434.3L719.4 1431L719.8 1427.7L720.3 1424.5L720.7 1421.5L721.2 1418.6L721.7 1415.8L722.1 1413.2L722.6 1410.8L723 1408.4L723.5 1406.2L723.9 1404.2L724.4 1402.2L724.9 1400.3L725.3 1398.6L725.8 1396.9L726.2 1395.3L726.7 1393.8L727.2 1392.4L727.6 1391.1L728.1 1389.9L728.5 1388.7L729 1387.6L729.5 1386.7L729.9 1385.8L730.4 1385L730.8 1384.3L731.3 1383.6L731.7 1383.1L732.2 1382.7L732.7 1382.4L733.1 1382.2L733.6 1382L734 1382L734.5 1382.1L735 1382.3L735.4 1382.7L735.9 1383.1L736.3 1383.7L736.8 1384.3L737.3 1385.1L737.7 1386L738.2 1387L738.6 1388.1L739.1 1389.3L739.6 1390.5L740 1391.9L740.5 1393.3L740.9 1394.9L741.4 1396.5L741.8 1398.1L742.3 1399.9L742.8 1401.6L743.2 1403.5L743.7 1405.4L744.1 1407.3L744.6 1409.2L745.1 1411.2L745.5 1413.1L746 1415L746.4 1417L746.9 1418.8L747.4 1420.7L747.8 1422.4L748.3 1424.2L748.7 1425.8L749.2 1427.3L749.7 1428.8L750.1 1430.2L750.6 1431.4L751 1432.6L751.5 1433.7L751.9 1434.6L752.4 1435.5L752.9 1436.2L753.3 1436.8L753.8 1437.3L754.2 1437.7L754.7 1437.9L755.2 1438L755.6 1438L756.1 1437.9L756.5 1437.6L757 1437.1L757.5 1436.6L757.9 1435.8L758.4 1435L758.8 1433.9L759.3 1432.8L759.8 1431.6L760.2 1430.2L760.7 1428.8L761.1 1427.3L761.6 1425.7L762 1424.1L762.5 1422.4L763 1420.8L763.4 1419.1L763.9 1417.4L764.3 1415.7L764.8 1414.1L765.3 1412.4L765.7 1410.8L766.2 1409.2L766.6 1407.6L767.1 1406.1L767.6 1404.7L768 1403.3L768.5 1401.9L768.9 1400.6L769.4 1399.4L769.9 1398.3L770.3 1397.2L770.8 1396.2L771.2 1395.4L771.7 1394.5L772.1 1393.8L772.6 1393.1L773.1 1392.6L773.5 1392.1L774 1391.6L774.4 1391.3L774.9 1391L775.4 1390.8L775.8 1390.7L776.3 1390.7L776.7 1390.7L777.2 1390.9L777.7 1391.1L778.1 1391.3L778.6 1391.7L779 1392.1L779.5 1392.6L779.9 1393.2L780.4 1393.9L780.9 1394.7L781.3 1395.5L781.8 1396.4L782.2 1397.3L782.7 1398.4L783.2 1399.5L783.6 1400.7L784.1 1402L784.5 1403.4L785 1404.8L785.5 1406.3L785.9 1407.9L786.4 1409.6L786.8 1411.3L787.3 1413.2L787.8 1415.1L788.2 1417.1L788.7 1419.1L789.1 1421.3L789.6 1423.5L790 1425.9L790.5 1428.3L791 1430.8L791.4 1433.4L791.9 1436.1L792.3 1438.9L792.8 1441.8L793.3 1444.8L793.7 1447.9L794.2 1451.1L794.6 1454.4L795.1 1457.7L795.6 1461.2L796 1464.8L796.5 1468.5L796.9 1472.1L797.4 1475.6L797.9 1478.9L798.3 1481.9L798.8 1484.6L799.2 1486.9L799.7 1488.7L800.1 1490L800.6 1490.9L801.1 1491.4L801.5 1491.6L802 1491.6L802.4 1491.3L802.9 1490.8L803.4 1490.1L803.8 1489.3L804.3 1488.3L804.7 1487.1L805.2 1485.8L805.7 1484.4L806.1 1482.8L806.6 1481.2L807 1479.4L807.5 1477.6L808 1475.7L808.4 1473.7L808.9 1471.7L809.3 1469.6L809.8 1467.5L810.2 1465.4L810.7 1463.3L811.2 1461.1L811.6 1459L812.1 1456.9L812.5 1454.8L813 1452.8L813.5 1450.8L813.9 1448.9L814.4 1447L814.8 1445.2L815.3 1443.6L815.8 1442L816.2 1440.5L816.7 1439.2L817.1 1437.9L817.6 1436.8L818.1 1435.8L818.5 1434.8L819 1434L819.4 1433.4L819.9 1432.8L820.3 1432.3L820.8 1432L821.3 1431.8L821.7 1431.6L822.2 1431.6L822.6 1431.7L823.1 1431.8L823.6 1432.1L824 1432.4L824.5 1432.8L824.9 1433.3L825.4 1433.9L825.9 1434.6L826.3 1435.3L826.8 1436.2L827.2 1437L827.7 1438L828.1 1439L828.6 1440.1L829.1 1441.2L829.5 1442.4L830 1443.7L830.4 1445L830.9 1446.4L831.4 1447.8L831.8 1449.2L832.3 1450.7L832.7 1452.2L833.2 1453.8L833.7 1455.4L834.1 1457L834.6 1458.7L835 1460.4L835.5 1462.1L836 1463.8L836.4 1465.6L836.9 1467.4L837.3 1469.2L837.8 1471L838.2 1472.8L838.7 1474.6L839.2 1476.3L839.6 1478L840.1 1479.6L840.5 1481.1L841 1482.5L841.5 1483.7L841.9 1484.8L842.4 1485.7L842.8 1486.4L843.3 1486.9L843.8 1487.3L844.2 1487.5L844.7 1487.5L845.1 1487.4L845.6 1487.2L846.1 1486.8L846.5 1486.4L847 1485.8L847.4 1485.1L847.9 1484.3L848.3 1483.5L848.8 1482.6L849.3 1481.6L849.7 1480.5L850.2 1479.4L850.6 1478.2L851.1 1477L851.6 1475.8L852 1474.5L852.5 1473.2L852.9 1471.9L853.4 1470.6L853.9 1469.2L854.3 1467.9L854.8 1466.6L855.2 1465.3L855.7 1464L856.2 1462.7L856.6 1461.4L857.1 1460.2L857.5 1459.1L858 1458L858.4 1456.9L858.9 1455.9L859.4 1455L859.8 1454.2L860.3 1453.4L860.7 1452.7L861.2 1452L861.7 1451.5L862.1 1451L862.6 1450.5L863 1450.1L863.5 1449.8L864 1449.5L864.4 1449.3L864.9 1449.1L865.3 1449L865.8 1449L866.3 1449L866.7 1449L867.2 1449.1L867.6 1449.3L868.1 1449.4L868.5 1449.7L869 1449.9L869.5 1450.2L869.9 1450.5L870.4 1450.9L870.8 1451.3L871.3 1451.6L871.8 1452.1L872.2 1452.5L872.7 1452.9L873.1 1453.4L873.6 1453.8L874.1 1454.3L874.5 1454.8L875 1455.2L875.4 1455.7L875.9 1456.1L876.4 1456.6L876.8 1457L877.3 1457.4L877.7 1457.8L878.2 1458.2L878.6 1458.5L879.1 1458.8L879.6 1459.1L880 1459.4L880.5 1459.6L880.9 1459.7L881.4 1459.9L881.9 1460L882.3 1460L882.8 1460L883.2 1459.9L883.7 1459.8L884.2 1459.6L884.6 1459.4L885.1 1459.1L885.5 1458.7L886 1458.2L886.4 1457.8L886.9 1457.2L887.4 1456.6L887.8 1456L888.3 1455.4L888.7 1454.7L889.2 1453.9L889.7 1453.2L890.1 1452.4L890.6 1451.6L891 1450.7L891.5 1449.9L892 1449.1L892.4 1448.2L892.9 1447.4L893.3 1446.5L893.8 1445.7L894.3 1444.9L894.7 1444L895.2 1443.2L895.6 1442.5L896.1 1441.7L896.5 1441L897 1440.3L897.5 1439.6L897.9 1439L898.4 1438.5L898.8 1437.9L899.3 1437.5L899.8 1437.1L900.2 1436.7L900.7 1436.4L901.1 1436.2L901.6 1436L902.1 1435.9L902.5 1435.9L903 1435.9L903.4 1436L903.9 1436.1L904.4 1436.3L904.8 1436.6L905.3 1437L905.7 1437.4L906.2 1437.9L906.6 1438.4L907.1 1439L907.6 1439.7L908 1440.4L908.5 1441.2L908.9 1442L909.4 1442.9L909.9 1443.8L910.3 1444.8L910.8 1445.9L911.2 1446.9L911.7 1448.1L912.2 1449.2L912.6 1450.4L913.1 1451.7L913.5 1453L914 1454.3L914.5 1455.6L914.9 1457L915.4 1458.4L915.8 1459.8L916.3 1461.3L916.7 1462.8L917.2 1464.3L917.7 1465.8L918.1 1467.4L918.6 1468.9L919 1470.5L919.5 1472.1L920 1473.7L920.4 1475.4L920.9 1477L921.3 1478.7L921.8 1480.4L922.3 1482.1L922.7 1483.8L923.2 1485.5L923.6 1487.3L924.1 1489L924.6 1490.6L925 1492.1L925.5 1493.4L925.9 1494.5L926.4 1495.3L926.8 1495.9L927.3 1496.2L927.8 1496.3L928.2 1496.2L928.7 1496L929.1 1495.5L929.6 1494.9L930.1 1494.1L930.5 1493.2L931 1492.1L931.4 1490.9L931.9 1489.6L932.4 1488.2L932.8 1486.6L933.3 1485L933.7 1483.3L934.2 1481.6L934.6 1479.7L935.1 1477.9L935.6 1475.9L936 1474L936.5 1472.1L936.9 1470.1L937.4 1468.2L937.9 1466.3L938.3 1464.5L938.8 1462.7L939.2 1461L939.7 1459.4L940.2 1457.9L940.6 1456.5L941.1 1455.1L941.5 1453.9L942 1452.7L942.5 1451.6L942.9 1450.6L943.4 1449.7L943.8 1448.8L944.3 1448L944.7 1447.3L945.2 1446.6L945.7 1445.9L946.1 1445.3L946.6 1444.7L947 1444.2L947.5 1443.8L948 1443.4L948.4 1443L948.9 1442.8L949.3 1442.5L949.8 1442.3L950.3 1442.2L950.7 1442.1L951.2 1442.1L951.6 1442.1L952.1 1442.2L952.6 1442.4L953 1442.6L953.5 1442.8L953.9 1443.2L954.4 1443.5L954.8 1444L955.3 1444.5L955.8 1445L956.2 1445.6L956.7 1446.3L957.1 1447.1L957.6 1447.9L958.1 1448.7L958.5 1449.7L959 1450.7L959.4 1451.7L959.9 1452.8L960.4 1454L960.8 1455.3L961.3 1456.6L961.7 1458L962.2 1459.4L962.7 1460.9L963.1 1462.5L963.6 1464.2L964 1465.9L964.5 1467.7L964.9 1469.6L965.4 1471.5L965.9 1473.5L966.3 1475.7L966.8 1477.8L967.2 1480.1L967.7 1482.5L968.2 1484.9L968.6 1487.5L969.1 1490L969.5 1492.6L970 1495.2L970.5 1497.7L970.9 1500.3L971.4 1502.7L971.8 1505.1L972.3 1507.4L972.8 1509.6L973.2 1511.7L973.7 1513.7L974.1 1515.6L974.6 1517.4L975 1519.1L975.5 1520.7L976 1522.1L976.4 1523.5L976.9 1524.6L977.3 1525.7L977.8 1526.6L978.3 1527.3L978.7 1527.9L979.2 1528.4L979.6 1528.7L980.1 1528.9L980.6 1529L981 1529L981.5 1528.9L981.9 1528.7L982.4 1528.4L982.8 1528L983.3 1527.6L983.8 1527.1L984.2 1526.5L984.7 1525.9L985.1 1525.3L985.6 1524.6L986.1 1523.9L986.5 1523.2L987 1522.6L987.4 1521.9L987.9 1521.2L988.4 1520.5L988.8 1519.9L989.3 1519.3L989.7 1518.8L990.2 1518.2L990.7 1517.8L991.1 1517.3L991.6 1517L992 1516.6L992.5 1516.4L992.9 1516.2L993.4 1516.1L993.9 1516L994.3 1516.1L994.8 1516.2L995.2 1516.4L995.7 1516.6L996.2 1517L996.6 1517.4L997.1 1517.8L997.5 1518.4L998 1519L998.5 1519.6L998.9 1520.3L999.4 1521L999.8 1521.8L1000.3 1522.7L1000.8 1523.5L1001.2 1524.5L1001.7 1525.4L1002.1 1526.4L1002.6 1527.4L1003 1528.4L1003.5 1529.5L1004 1530.5L1004.4 1531.6L1004.9 1532.7L1005.3 1533.8L1005.8 1534.9L1006.3 1536L1006.7 1537.1L1007.2 1538.2L1007.6 1539.3L1008.1 1540.4L1008.6 1541.5L1009 1542.5L1009.5 1543.6L1009.9 1544.6L1010.4 1545.6L1010.9 1546.5L1011.3 1547.5" fill="none" stroke="#ff0000" stroke-width="7.5" stroke-linejoin="round" stroke-linecap="round" clip-path="url(#cc)"/>
</g>
<g>
<rect x="1424.2" y="1040.9" width="1.7" height="684.8" fill="#dfdfdf"/>
<rect x="1555.2" y="1040.9" width="1.7" height="684.8" fill="#dfdfdf"/>
<rect x="1686.3" y="1040.9" width="1.7" height="684.8" fill="#dfdfdf"/>
<rect x="1817.3" y="1040.9" width="1.7" height="684.8" fill="#dfdfdf"/>
<rect x="1948.4" y="1040.9" width="1.7" height="684.8" fill="#dfdfdf"/>
<rect x="2079.4" y="1040.9" width="1.7" height="684.8" fill="#dfdfdf"/>
<rect x="1294" y="1107.8" width="917.3" height="2.3" fill="#e5e5e5"/>
<rect x="1294" y="1175.8" width="917.3" height="2.3" fill="#e5e5e5"/>
<rect x="1294" y="1244.0" width="917.3" height="2.3" fill="#e5e5e5"/>
<rect x="1294" y="1313.2" width="917.3" height="2.3" fill="#e5e5e5"/>
<rect x="1294" y="1381.8" width="917.3" height="2.3" fill="#e5e5e5"/>
<rect x="1294" y="1449.7" width="917.3" height="2.3" fill="#e5e5e5"/>
<rect x="1294" y="1517.5" width="917.3" height="2.3" fill="#e5e5e5"/>
<rect x="1294" y="1586.1" width="917.3" height="2.3" fill="#e5e5e5"/>
<rect x="1294" y="1655.6" width="917.3" height="2.3" fill="#e5e5e5"/>
<rect x="1423.8" y="1715.7" width="2.4" height="9.5" fill="#6f6f6f"/>
<rect x="1423.8" y="1041.9" width="2.4" height="9.5" fill="#6f6f6f"/>
<rect x="1554.9" y="1715.7" width="2.4" height="9.5" fill="#6f6f6f"/>
<rect x="1554.9" y="1041.9" width="2.4" height="9.5" fill="#6f6f6f"/>
<rect x="1685.9" y="1715.7" width="2.4" height="9.5" fill="#6f6f6f"/>
<rect x="1685.9" y="1041.9" width="2.4" height="9.5" fill="#6f6f6f"/>
<rect x="1817.0" y="1715.7" width="2.4" height="9.5" fill="#6f6f6f"/>
<rect x="1817.0" y="1041.9" width="2.4" height="9.5" fill="#6f6f6f"/>
<rect x="1948.0" y="1715.7" width="2.4" height="9.5" fill="#6f6f6f"/>
<rect x="1948.0" y="1041.9" width="2.4" height="9.5" fill="#6f6f6f"/>
<rect x="2079.1" y="1715.7" width="2.4" height="9.5" fill="#6f6f6f"/>
<rect x="2079.1" y="1041.9" width="2.4" height="9.5" fill="#6f6f6f"/>
<rect x="1295.0" y="1107.6" width="9" height="2.6" fill="#6f6f6f"/>
<rect x="2201.3" y="1107.6" width="9" height="2.6" fill="#6f6f6f"/>
<rect x="1295.0" y="1175.6" width="9" height="2.6" fill="#6f6f6f"/>
<rect x="2201.3" y="1175.6" width="9" height="2.6" fill="#6f6f6f"/>
<rect x="1295.0" y="1243.8" width="9" height="2.6" fill="#6f6f6f"/>
<rect x="2201.3" y="1243.8" width="9" height="2.6" fill="#6f6f6f"/>
<rect x="1295.0" y="1313.0" width="9" height="2.6" fill="#6f6f6f"/>
<rect x="2201.3" y="1313.0" width="9" height="2.6" fill="#6f6f6f"/>
<rect x="1295.0" y="1381.6" width="9" height="2.6" fill="#6f6f6f"/>
<rect x="2201.3" y="1381.6" width="9" height="2.6" fill="#6f6f6f"/>
<rect x="1295.0" y="1449.4" width="9" height="2.6" fill="#6f6f6f"/>
<rect x="2201.3" y="1449.4" width="9" height="2.6" fill="#6f6f6f"/>
<rect x="1295.0" y="1517.2" width="9" height="2.6" fill="#6f6f6f"/>
<rect x="2201.3" y="1517.2" width="9" height="2.6" fill="#6f6f6f"/>
<rect x="1295.0" y="1585.8" width="9" height="2.6" fill="#6f6f6f"/>
<rect x="2201.3" y="1585.8" width="9" height="2.6" fill="#6f6f6f"/>
<rect x="1295.0" y="1655.4" width="9" height="2.6" fill="#6f6f6f"/>
<rect x="2201.3" y="1655.4" width="9" height="2.6" fill="#6f6f6f"/>
<rect x="1292.1" y="1039.3" width="921.1" height="3.2" fill="#989898"/>
<rect x="1292.2" y="1039.1" width="1.8" height="687.5" fill="#b0b0b0"/>
<rect x="1294.0" y="1039.1" width="1.9" height="687.5" fill="#909090"/>
<rect x="2209.5" y="1039.1" width="2" height="687.5" fill="#808080"/>
<rect x="2211.5" y="1039.1" width="1.8" height="687.5" fill="#a8a8a8"/>
<rect x="1292.2" y="1724.8" width="920.9" height="2" fill="#6e6e6e"/>
<text class="tk" x="1294.0" y="1761.6" text-anchor="middle">0</text>
<text class="tk" x="1425.0" y="1761.6" text-anchor="middle">100</text>
<text class="tk" x="1556.1" y="1761.6" text-anchor="middle">200</text>
<text class="tk" x="1687.1" y="1761.6" text-anchor="middle">300</text>
<text class="tk" x="1818.2" y="1761.6" text-anchor="middle">400</text>
<text class="tk" x="1949.2" y="1761.6" text-anchor="middle">500</text>
<text class="tk" x="2080.3" y="1761.6" text-anchor="middle">600</text>
<text class="tk" x="2211.3" y="1761.6" text-anchor="middle">700</text>
<text class="tk" x="1284.4" y="1050.8" text-anchor="end">0</text>
<text class="tk" x="1284.4" y="1118.9" text-anchor="end">5</text>
<text class="tk" text-anchor="end" transform="translate(1269.3 1118.9) scale(1.14 1)">−</text>
<text class="tk" x="1284.4" y="1186.9" text-anchor="end">10</text>
<text class="tk" text-anchor="end" transform="translate(1255.4 1186.9) scale(1.14 1)">−</text>
<text class="tk" x="1284.4" y="1255.1" text-anchor="end">15</text>
<text class="tk" text-anchor="end" transform="translate(1255.4 1255.1) scale(1.14 1)">−</text>
<text class="tk" x="1284.4" y="1324.3" text-anchor="end">20</text>
<text class="tk" text-anchor="end" transform="translate(1255.4 1324.3) scale(1.14 1)">−</text>
<text class="tk" x="1284.4" y="1392.9" text-anchor="end">25</text>
<text class="tk" text-anchor="end" transform="translate(1255.4 1392.9) scale(1.14 1)">−</text>
<text class="tk" x="1284.4" y="1460.8" text-anchor="end">30</text>
<text class="tk" text-anchor="end" transform="translate(1255.4 1460.8) scale(1.14 1)">−</text>
<text class="tk" x="1284.4" y="1528.6" text-anchor="end">35</text>
<text class="tk" text-anchor="end" transform="translate(1255.4 1528.6) scale(1.14 1)">−</text>
<text class="tk" x="1284.4" y="1597.2" text-anchor="end">40</text>
<text class="tk" text-anchor="end" transform="translate(1255.4 1597.2) scale(1.14 1)">−</text>
<text class="tk" x="1284.4" y="1666.7" text-anchor="end">45</text>
<text class="tk" text-anchor="end" transform="translate(1255.4 1666.7) scale(1.14 1)">−</text>
<text class="tk" x="1284.4" y="1735.6" text-anchor="end">50</text>
<text class="tk" text-anchor="end" transform="translate(1255.4 1735.6) scale(1.14 1)">−</text>
<text class="lb" x="1752.7" y="1797.3" text-anchor="middle">Range Direction</text>
<text class="lb" text-anchor="middle" transform="translate(1223.2 1383.3) rotate(-90)">Amplitude/dB</text>
<path d="M1294 1385.3L1294.5 1384.7L1294.9 1384L1295.4 1383.4L1295.8 1382.7L1296.3 1382.1L1296.8 1381.5L1297.2 1380.9L1297.7 1380.4L1298.2 1379.8L1298.6 1379.3L1299.1 1378.8L1299.5 1378.4L1300 1377.9L1300.5 1377.6L1300.9 1377.2L1301.4 1376.9L1301.8 1376.7L1302.3 1376.5L1302.8 1376.3L1303.2 1376.2L1303.7 1376.1L1304.1 1376.1L1304.6 1376.2L1305.1 1376.3L1305.5 1376.6L1306 1376.9L1306.5 1377.2L1306.9 1377.7L1307.4 1378.3L1307.8 1379L1308.3 1379.7L1308.8 1380.5L1309.2 1381.5L1309.7 1382.5L1310.1 1383.5L1310.6 1384.7L1311.1 1385.9L1311.5 1387.2L1312 1388.6L1312.5 1390L1312.9 1391.5L1313.4 1393.1L1313.8 1394.7L1314.3 1396.4L1314.8 1398.1L1315.2 1400L1315.7 1401.8L1316.1 1403.8L1316.6 1405.7L1317.1 1407.8L1317.5 1409.8L1318 1412L1318.4 1414.1L1318.9 1416.3L1319.4 1418.6L1319.8 1420.9L1320.3 1423.2L1320.8 1425.6L1321.2 1428L1321.7 1430.4L1322.1 1432.9L1322.6 1435.4L1323.1 1438L1323.5 1440.6L1324 1443.3L1324.4 1446L1324.9 1448.8L1325.4 1451.6L1325.8 1454.5L1326.3 1457.5L1326.8 1460.5L1327.2 1463.5L1327.7 1466.6L1328.1 1469.7L1328.6 1472.8L1329.1 1475.8L1329.5 1478.8L1330 1481.6L1330.4 1484.4L1330.9 1487L1331.4 1489.5L1331.8 1491.7L1332.3 1493.8L1332.7 1495.6L1333.2 1497.2L1333.7 1498.4L1334.1 1499.4L1334.6 1500.1L1335.1 1500.5L1335.5 1500.7L1336 1500.7L1336.4 1500.5L1336.9 1500.3L1337.4 1499.9L1337.8 1499.4L1338.3 1498.8L1338.7 1498.2L1339.2 1497.4L1339.7 1496.7L1340.1 1495.9L1340.6 1495.1L1341 1494.3L1341.5 1493.5L1342 1492.7L1342.4 1491.9L1342.9 1491.2L1343.4 1490.6L1343.8 1490.1L1344.3 1489.6L1344.7 1489.2L1345.2 1489L1345.7 1488.8L1346.1 1488.7L1346.6 1488.8L1347 1489L1347.5 1489.3L1348 1489.7L1348.4 1490.3L1348.9 1491L1349.4 1491.9L1349.8 1492.9L1350.3 1494.1L1350.7 1495.5L1351.2 1497.1L1351.7 1498.9L1352.1 1500.9L1352.6 1503.2L1353 1505.7L1353.5 1508.4L1354 1511.4L1354.4 1514.6L1354.9 1518.1L1355.3 1522L1355.8 1526.2L1356.3 1530.7L1356.7 1535.5L1357.2 1540.6L1357.7 1546.1L1358.1 1552L1358.6 1558.2L1359 1564.8L1359.5 1571.8L1360 1579.2L1360.4 1587L1360.9 1595.3L1361.3 1604.1L1361.8 1613.4L1362.3 1623.1L1362.7 1633.2L1363.2 1643.9L1363.6 1637.1L1364.1 1629.7L1364.6 1621.8L1365 1613.3L1365.5 1604.4L1365.9 1595.1L1366.4 1585.6L1366.9 1575.9L1367.3 1566.2L1367.8 1556.4L1368.2 1546.5L1368.7 1536.8L1369.2 1527.3L1369.6 1517.9L1370.1 1509L1370.5 1500.4L1371 1492.3L1371.4 1484.5L1371.9 1477.1L1372.4 1470.1L1372.8 1463.4L1373.3 1457L1373.7 1450.9L1374.2 1445.1L1374.7 1439.5L1375.1 1434.1L1375.6 1429L1376 1424L1376.5 1419.3L1377 1414.7L1377.4 1410.4L1377.9 1406.2L1378.3 1402.2L1378.8 1398.4L1379.2 1394.8L1379.7 1391.3L1380.2 1388L1380.6 1384.8L1381.1 1381.8L1381.5 1378.9L1382 1376.2L1382.5 1373.6L1382.9 1371.1L1383.4 1368.8L1383.8 1366.6L1384.3 1364.5L1384.7 1362.5L1385.2 1360.6L1385.7 1358.8L1386.1 1357.1L1386.6 1355.6L1387 1354.1L1387.5 1352.6L1388 1351.3L1388.4 1350.1L1388.9 1348.9L1389.3 1347.8L1389.8 1346.8L1390.3 1345.8L1390.7 1345L1391.2 1344.2L1391.6 1343.5L1392.1 1342.9L1392.5 1342.4L1393 1341.9L1393.5 1341.6L1393.9 1341.3L1394.4 1341.1L1394.8 1341L1395.3 1340.9L1395.8 1341L1396.2 1341.1L1396.7 1341.3L1397.1 1341.6L1397.6 1342L1398 1342.5L1398.5 1343L1399 1343.7L1399.4 1344.4L1399.9 1345.2L1400.3 1346.1L1400.8 1347L1401.3 1348.1L1401.7 1349.2L1402.2 1350.5L1402.6 1351.8L1403.1 1353.2L1403.6 1354.7L1404 1356.3L1404.5 1357.9L1404.9 1359.7L1405.4 1361.5L1405.8 1363.4L1406.3 1365.5L1406.8 1367.6L1407.2 1369.8L1407.7 1372L1408.1 1374.4L1408.6 1376.9L1409.1 1379.5L1409.5 1382.1L1410 1384.9L1410.4 1387.7L1410.9 1390.6L1411.3 1393.6L1411.8 1396.7L1412.3 1399.9L1412.7 1403.2L1413.2 1406.6L1413.6 1410.1L1414.1 1413.7L1414.6 1417.4L1415 1421.2L1415.5 1425.1L1415.9 1429.1L1416.4 1433.2L1416.9 1437.5L1417.3 1441.8L1417.8 1446.1L1418.2 1450.5L1418.7 1454.9L1419.1 1459.2L1419.6 1463.4L1420.1 1467.5L1420.5 1471.5L1421 1475.3L1421.4 1478.8L1421.9 1482.2L1422.4 1485.2L1422.8 1487.9L1423.3 1490.3L1423.7 1492.4L1424.2 1494L1424.6 1495.3L1425.1 1496.1L1425.6 1496.7L1426 1496.9L1426.5 1496.8L1426.9 1496.4L1427.4 1495.8L1427.9 1494.9L1428.3 1493.8L1428.8 1492.4L1429.2 1490.8L1429.7 1489.1L1430.2 1487.2L1430.6 1485.2L1431.1 1483L1431.5 1480.8L1432 1478.6L1432.4 1476.3L1432.9 1474.1L1433.4 1471.9L1433.8 1469.8L1434.3 1467.7L1434.7 1465.7L1435.2 1463.9L1435.7 1462.2L1436.1 1460.6L1436.6 1459.3L1437 1458.2L1437.5 1457.3L1438 1456.6L1438.4 1456.1L1438.9 1455.8L1439.3 1455.7L1439.8 1455.7L1440.2 1455.7L1440.7 1455.9L1441.2 1456.1L1441.6 1456.5L1442.1 1456.9L1442.5 1457.4L1443 1458L1443.5 1458.8L1443.9 1459.6L1444.4 1460.4L1444.8 1461.4L1445.3 1462.3L1445.7 1463.3L1446.2 1464.3L1446.7 1465.2L1447.1 1466.2L1447.6 1467.1L1448 1467.9L1448.5 1468.7L1449 1469.4L1449.4 1470L1449.9 1470.5L1450.3 1470.9L1450.8 1471.1L1451.3 1471.2L1451.7 1471.1L1452.2 1470.8L1452.6 1470.3L1453.1 1469.5L1453.5 1468.6L1454 1467.3L1454.5 1465.8L1454.9 1464L1455.4 1461.9L1455.8 1459.5L1456.3 1456.6L1456.8 1453.5L1457.2 1449.9L1457.7 1445.9L1458.1 1441.6L1458.6 1436.9L1459 1432L1459.5 1427L1460 1421.9L1460.4 1416.9L1460.9 1411.9L1461.3 1407L1461.8 1402.4L1462.3 1398.1L1462.7 1394.1L1463.2 1390.3L1463.6 1386.8L1464.1 1383.6L1464.6 1380.5L1465 1377.7L1465.5 1375L1465.9 1372.4L1466.4 1370L1466.8 1367.6L1467.3 1365.4L1467.8 1363.2L1468.2 1361.1L1468.7 1359L1469.1 1357L1469.6 1355L1470.1 1353.1L1470.5 1351.2L1471 1349.5L1471.4 1347.7L1471.9 1346.1L1472.3 1344.5L1472.8 1342.9L1473.3 1341.5L1473.7 1340.1L1474.2 1338.7L1474.6 1337.5L1475.1 1336.3L1475.6 1335.2L1476 1334.2L1476.5 1333.2L1476.9 1332.4L1477.4 1331.6L1477.9 1330.9L1478.3 1330.3L1478.8 1329.8L1479.2 1329.3L1479.7 1329L1480.1 1328.7L1480.6 1328.5L1481.1 1328.5L1481.5 1328.5L1482 1328.6L1482.4 1328.9L1482.9 1329.2L1483.4 1329.6L1483.8 1330.2L1484.3 1330.9L1484.7 1331.6L1485.2 1332.5L1485.7 1333.5L1486.1 1334.7L1486.6 1335.9L1487 1337.3L1487.5 1338.8L1487.9 1340.4L1488.4 1342.2L1488.9 1344.1L1489.3 1346.1L1489.8 1348.2L1490.2 1350.5L1490.7 1353L1491.2 1355.6L1491.6 1358.3L1492.1 1361.2L1492.5 1364.2L1493 1367.3L1493.4 1370.7L1493.9 1374.1L1494.4 1377.8L1494.8 1381.6L1495.3 1385.5L1495.7 1389.6L1496.2 1393.8L1496.7 1398.2L1497.1 1402.7L1497.6 1407.4L1498 1412.3L1498.5 1417.3L1499 1422.5L1499.4 1427.9L1499.9 1433.4L1500.3 1439.1L1500.8 1445L1501.2 1451L1501.7 1457.2L1502.2 1463.5L1502.6 1470.1L1503.1 1476.8L1503.5 1483.6L1504 1490.6L1504.5 1497.8L1504.9 1505.2L1505.4 1512.8L1505.8 1520.5L1506.3 1528.5L1506.7 1536.6L1507.2 1545L1507.7 1553.5L1508.1 1562.1L1508.6 1556L1509 1548.9L1509.5 1541.1L1510 1532.6L1510.4 1523.6L1510.9 1514.3L1511.3 1505L1511.8 1495.7L1512.3 1486.5L1512.7 1477.6L1513.2 1469.2L1513.6 1461.5L1514.1 1454.5L1514.6 1448.3L1515 1442.9L1515.5 1438.2L1515.9 1434L1516.4 1430.4L1516.9 1427.1L1517.3 1424.3L1517.8 1421.6L1518.2 1419.1L1518.7 1416.8L1519.2 1414.5L1519.6 1412.3L1520.1 1410.1L1520.5 1408.1L1521 1406.2L1521.5 1404.4L1521.9 1402.7L1522.4 1401.1L1522.8 1399.7L1523.3 1398.4L1523.8 1397.2L1524.2 1396.2L1524.7 1395.3L1525.2 1394.6L1525.6 1394L1526.1 1393.7L1526.5 1393.5L1527 1393.4L1527.5 1393.6L1527.9 1394L1528.4 1394.6L1528.8 1395.4L1529.3 1396.4L1529.8 1397.6L1530.2 1399.1L1530.7 1400.7L1531.1 1402.5L1531.6 1404.5L1532.1 1406.6L1532.5 1408.8L1533 1411.1L1533.4 1413.5L1533.9 1415.9L1534.4 1418.4L1534.8 1420.9L1535.3 1423.5L1535.7 1426L1536.2 1428.5L1536.7 1430.9L1537.1 1433.3L1537.6 1435.6L1538 1437.8L1538.5 1439.9L1539 1441.8L1539.4 1443.6L1539.9 1445.2L1540.3 1446.6L1540.8 1447.8L1541.3 1448.7L1541.7 1449.5L1542.2 1449.9L1542.6 1450L1543.1 1449.7L1543.6 1448.8L1544 1447.3L1544.5 1444.8L1544.9 1441.5L1545.4 1437.3L1545.9 1432.4L1546.3 1427.1L1546.8 1421.5L1547.2 1415.9L1547.7 1410.4L1548.2 1405.3L1548.6 1400.5L1549.1 1395.9L1549.5 1391.7L1550 1387.7L1550.5 1383.9L1550.9 1380.4L1551.4 1376.9L1551.8 1373.7L1552.3 1370.5L1552.8 1367.4L1553.2 1364.5L1553.7 1361.5L1554.1 1358.7L1554.6 1355.8L1555.1 1353.1L1555.5 1350.4L1556 1347.9L1556.4 1345.4L1556.9 1343.1L1557.4 1340.9L1557.8 1338.8L1558.3 1336.9L1558.7 1335.1L1559.2 1333.5L1559.7 1332.1L1560.1 1330.9L1560.6 1329.8L1561 1328.8L1561.5 1327.9L1562 1327.2L1562.4 1326.5L1562.9 1326L1563.3 1325.5L1563.8 1325L1564.3 1324.7L1564.7 1324.4L1565.2 1324.2L1565.6 1324.1L1566.1 1324L1566.6 1324.1L1567 1324.3L1567.5 1324.6L1567.9 1325L1568.4 1325.6L1568.9 1326.3L1569.3 1327.1L1569.8 1328.1L1570.2 1329.2L1570.7 1330.5L1571.2 1331.9L1571.6 1333.5L1572.1 1335.3L1572.5 1337.3L1573 1339.5L1573.5 1341.8L1573.9 1344.3L1574.4 1347L1574.8 1349.8L1575.3 1352.8L1575.8 1355.9L1576.2 1359.2L1576.7 1362.5L1577.2 1366L1577.6 1369.5L1578.1 1373.2L1578.5 1376.9L1579 1380.8L1579.5 1384.9L1579.9 1389.5L1580.4 1394.6L1580.8 1400.4L1581.3 1407L1581.8 1414.6L1582.2 1423.3L1582.7 1433.1L1583.1 1444.4L1583.6 1457.2L1584.1 1472.2L1584.5 1490.2L1585 1511.9L1585.4 1538.2L1585.9 1567.5L1586.4 1597.5L1586.8 1626.1L1587.3 1650.8L1587.7 1628.2L1588.2 1598.4L1588.7 1569.4L1589.1 1544.7L1589.6 1522.9L1590 1502.5L1590.5 1482.3L1591 1462.4L1591.4 1443.3L1591.9 1425.6L1592.3 1409.8L1592.8 1396.3L1593.3 1384.8L1593.7 1375L1594.2 1366.7L1594.7 1359.5L1595.1 1353.4L1595.6 1347.9L1596 1342.8L1596.5 1338L1597 1333.5L1597.4 1329.3L1597.9 1325.4L1598.3 1321.8L1598.8 1318.4L1599.3 1315.2L1599.7 1312.1L1600.2 1309.3L1600.7 1306.7L1601.1 1304.2L1601.6 1301.8L1602 1299.6L1602.5 1297.5L1603 1295.5L1603.4 1293.6L1603.9 1291.7L1604.3 1290L1604.8 1288.3L1605.3 1286.8L1605.7 1285.3L1606.2 1284L1606.7 1282.8L1607.1 1281.7L1607.6 1280.7L1608 1279.8L1608.5 1279L1609 1278.4L1609.4 1277.9L1609.9 1277.5L1610.3 1277.3L1610.8 1277.2L1611.3 1277.3L1611.7 1277.5L1612.2 1277.8L1612.7 1278.3L1613.1 1278.9L1613.6 1279.6L1614 1280.4L1614.5 1281.4L1615 1282.5L1615.4 1283.7L1615.9 1285L1616.3 1286.4L1616.8 1287.9L1617.3 1289.5L1617.7 1291.2L1618.2 1293L1618.7 1294.8L1619.1 1296.8L1619.6 1298.9L1620 1301.2L1620.5 1303.8L1621 1307L1621.4 1310.7L1621.9 1315L1622.3 1320.2L1622.8 1326.3L1623.3 1333.2L1623.7 1340.5L1624.2 1347.8L1624.7 1354.8L1625.1 1362.1L1625.6 1370.1L1626 1379.3L1626.5 1390.1L1627 1403.1L1627.4 1418.8L1627.9 1437.6L1628.3 1460.1L1628.8 1486.7L1629.3 1518L1629.7 1555.5L1630.2 1600.7L1630.6 1645.3L1631.1 1611.7L1631.6 1580.4L1632 1551.7L1632.5 1525.2L1632.9 1501.1L1633.4 1479.2L1633.9 1459.3L1634.3 1441L1634.8 1424.1L1635.2 1408.4L1635.7 1393.8L1636.2 1380.1L1636.6 1367.3L1637.1 1355.5L1637.5 1344.7L1638 1334.8L1638.4 1325.9L1638.9 1317.8L1639.4 1310.5L1639.8 1303.8L1640.3 1297.6L1640.7 1292L1641.2 1286.7L1641.7 1281.7L1642.1 1277L1642.6 1272.5L1643 1268.2L1643.5 1264.2L1643.9 1260.3L1644.4 1256.7L1644.9 1253.3L1645.3 1250.1L1645.8 1247L1646.2 1244.2L1646.7 1241.6L1647.2 1239.2L1647.6 1236.9L1648.1 1234.9L1648.5 1233L1649 1231.2L1649.5 1229.7L1649.9 1228.2L1650.4 1227L1650.8 1225.9L1651.3 1224.9L1651.7 1224L1652.2 1223.4L1652.7 1222.8L1653.1 1222.3L1653.6 1222L1654 1221.8L1654.5 1221.8L1655 1221.8L1655.4 1221.9L1655.9 1222.2L1656.3 1222.5L1656.8 1223L1657.3 1223.6L1657.7 1224.3L1658.2 1225.1L1658.6 1226L1659.1 1227L1659.5 1228.1L1660 1229.4L1660.5 1230.7L1660.9 1232.2L1661.4 1233.8L1661.8 1235.6L1662.3 1237.7L1662.8 1240L1663.2 1242.6L1663.7 1245.7L1664.1 1249.1L1664.6 1253L1665 1257.5L1665.5 1262.4L1666 1268L1666.4 1274.2L1666.9 1281L1667.3 1288.4L1667.8 1296.2L1668.3 1304.1L1668.7 1311.9L1669.2 1319.7L1669.6 1328L1670.1 1337.9L1670.6 1350.4L1671 1366.5L1671.5 1387.2L1671.9 1413.3L1672.4 1446.2L1672.8 1487.1L1673.3 1473.7L1673.8 1450.1L1674.2 1421L1674.7 1391.3L1675.1 1365.2L1675.6 1343.9L1676.1 1326.8L1676.5 1313.2L1677 1302.1L1677.5 1292.9L1677.9 1284.9L1678.4 1277.2L1678.8 1269.2L1679.3 1260.6L1679.8 1251.4L1680.2 1241.8L1680.7 1232.1L1681.1 1222.4L1681.6 1212.7L1682.1 1203.3L1682.5 1194.2L1683 1185.7L1683.4 1177.9L1683.9 1170.7L1684.4 1164.3L1684.8 1158.4L1685.3 1153L1685.7 1147.9L1686.2 1143.2L1686.7 1138.7L1687.1 1134.4L1687.6 1130.3L1688.1 1126.3L1688.5 1122.4L1689 1118.7L1689.4 1115.1L1689.9 1111.6L1690.4 1108.3L1690.8 1105L1691.3 1101.9L1691.7 1099L1692.2 1096.1L1692.7 1093.3L1693.1 1090.7L1693.6 1088.2L1694 1085.7L1694.5 1083.4L1695 1081.1L1695.4 1079L1695.9 1076.9L1696.3 1075L1696.8 1073.1L1697.3 1071.3L1697.7 1069.6L1698.2 1067.9L1698.6 1066.4L1699.1 1064.9L1699.6 1063.4L1700 1062.1L1700.5 1060.8L1701 1059.5L1701.4 1058.3L1701.9 1057.2L1702.3 1056.1L1702.8 1055L1703.3 1054L1703.7 1053L1704.2 1052.1L1704.6 1051.2L1705.1 1050.3L1705.6 1049.5L1706 1048.7L1706.5 1048L1706.9 1047.3L1707.4 1046.7L1707.9 1046L1708.3 1045.4L1708.8 1044.9L1709.2 1044.4L1709.7 1043.9L1710.2 1043.5L1710.6 1043.1L1711.1 1042.7L1711.5 1042.4L1712 1042.1L1712.5 1041.8L1712.9 1041.6L1713.4 1041.4L1713.9 1041.2L1714.3 1041.1L1714.8 1041L1715.2 1041L1715.7 1040.9L1716.2 1040.9L1716.6 1041L1717.1 1041.1L1717.5 1041.2L1718 1041.3L1718.5 1041.5L1718.9 1041.7L1719.4 1041.9L1719.8 1042.2L1720.3 1042.5L1720.8 1042.9L1721.2 1043.3L1721.7 1043.7L1722.1 1044.2L1722.6 1044.7L1723.1 1045.3L1723.5 1045.9L1724 1046.5L1724.5 1047.2L1724.9 1047.9L1725.4 1048.7L1725.8 1049.5L1726.3 1050.3L1726.8 1051.3L1727.2 1052.2L1727.7 1053.2L1728.1 1054.2L1728.6 1055.3L1729.1 1056.5L1729.5 1057.7L1730 1058.9L1730.4 1060.2L1730.9 1061.6L1731.4 1063L1731.8 1064.4L1732.3 1065.9L1732.7 1067.5L1733.2 1069.1L1733.7 1070.7L1734.1 1072.4L1734.6 1074.2L1735 1076L1735.5 1077.9L1736 1079.9L1736.4 1081.9L1736.9 1084L1737.4 1086.2L1737.8 1088.5L1738.3 1090.9L1738.7 1093.4L1739.2 1096L1739.7 1098.7L1740.1 1101.6L1740.6 1104.5L1741 1107.6L1741.5 1110.9L1742 1114.3L1742.4 1117.8L1742.9 1121.5L1743.3 1125.4L1743.8 1129.4L1744.3 1133.6L1744.7 1138L1745.2 1142.6L1745.6 1147.5L1746.1 1152.7L1746.6 1158.3L1747 1164.4L1747.5 1171L1747.9 1178.3L1748.4 1186.2L1748.9 1194.8L1749.3 1203.9L1749.8 1213.3L1750.3 1222.9L1750.7 1232.5L1751.2 1242.1L1751.6 1251.4L1752.1 1260.4L1752.6 1268.8L1753 1276.5L1753.5 1283.9L1753.9 1291.9L1754.4 1301.3L1754.9 1313.1L1755.3 1328L1755.8 1346.2L1756.2 1367.4L1756.7 1391.7L1757.2 1418.7L1757.6 1448.6L1758.1 1477.6L1758.5 1487.1L1759 1445.6L1759.5 1412.4L1759.9 1386.3L1760.4 1365.9L1760.8 1350.3L1761.3 1338.4L1761.8 1329.1L1762.2 1321.1L1762.7 1313.4L1763.1 1305.1L1763.6 1296.4L1764.1 1287.9L1764.5 1279.8L1765 1272.6L1765.4 1266.4L1765.9 1261.2L1766.3 1256.8L1766.8 1253L1767.3 1249.7L1767.7 1246.8L1768.2 1244.1L1768.6 1241.5L1769.1 1239.2L1769.6 1237L1770 1234.9L1770.5 1233.1L1770.9 1231.4L1771.4 1229.8L1771.8 1228.4L1772.3 1227.1L1772.8 1226L1773.2 1225L1773.7 1224.2L1774.1 1223.5L1774.6 1222.9L1775.1 1222.4L1775.5 1222.1L1776 1221.9L1776.4 1221.8L1776.9 1221.8L1777.4 1221.9L1777.8 1222.1L1778.3 1222.4L1778.7 1222.9L1779.2 1223.4L1779.6 1224L1780.1 1224.7L1780.6 1225.6L1781 1226.6L1781.5 1227.9L1781.9 1229.3L1782.4 1230.9L1782.9 1232.8L1783.3 1234.8L1783.8 1237L1784.2 1239.3L1784.7 1241.8L1785.1 1244.5L1785.6 1247.3L1786.1 1250.3L1786.5 1253.4L1787 1256.7L1787.4 1260.2L1787.9 1263.9L1788.4 1267.9L1788.8 1272L1789.3 1276.4L1789.7 1281.1L1790.2 1286L1790.7 1291.4L1791.1 1297.1L1791.6 1303.4L1792 1310.2L1792.5 1317.8L1792.9 1326L1793.4 1335.2L1793.9 1345.2L1794.3 1356.2L1794.8 1368L1795.2 1380.8L1795.7 1394.3L1796.2 1408.6L1796.6 1423.8L1797.1 1440.2L1797.5 1458.1L1798 1478.1L1798.4 1500.7L1798.9 1526.1L1799.4 1553.3L1799.8 1580.6L1800.3 1606.4L1800.7 1629L1801.2 1597.1L1801.7 1559L1802.1 1518L1802.6 1483.1L1803 1456.3L1803.5 1435.8L1804 1419.5L1804.4 1405.6L1804.9 1392.9L1805.4 1381.5L1805.8 1371.1L1806.3 1361.8L1806.7 1353.4L1807.2 1345.8L1807.7 1338.9L1808.1 1332.7L1808.6 1327L1809 1322L1809.5 1317.4L1810 1313.3L1810.4 1309.6L1810.9 1306.2L1811.4 1303.2L1811.8 1300.4L1812.3 1297.8L1812.7 1295.5L1813.2 1293.3L1813.7 1291.2L1814.1 1289.3L1814.6 1287.6L1815 1286L1815.5 1284.5L1816 1283.2L1816.4 1282L1816.9 1281L1817.4 1280.1L1817.8 1279.4L1818.3 1278.7L1818.7 1278.2L1819.2 1277.8L1819.7 1277.5L1820.1 1277.4L1820.6 1277.4L1821 1277.4L1821.5 1277.6L1822 1277.9L1822.4 1278.3L1822.9 1278.9L1823.4 1279.5L1823.8 1280.3L1824.3 1281.2L1824.7 1282.2L1825.2 1283.4L1825.7 1284.7L1826.1 1286.1L1826.6 1287.6L1827 1289.2L1827.5 1291L1828 1293L1828.4 1295L1828.9 1297.2L1829.4 1299.5L1829.8 1302L1830.3 1304.6L1830.7 1307.4L1831.2 1310.3L1831.7 1313.3L1832.1 1316.5L1832.6 1319.8L1833 1323.3L1833.5 1326.9L1834 1330.6L1834.4 1334.5L1834.9 1338.6L1835.4 1342.8L1835.8 1347.2L1836.3 1351.8L1836.7 1357.2L1837.2 1363.6L1837.7 1371.6L1838.1 1381.6L1838.6 1393.9L1839 1409.1L1839.5 1427.4L1840 1447.7L1840.4 1468.2L1840.9 1487.2L1841.3 1502.9L1841.8 1515.2L1842.3 1531.7L1842.7 1561.6L1843.2 1613.4L1843.7 1669.7L1844.1 1690.6L1844.6 1620.4L1845 1593.2L1845.5 1571.6L1846 1539.8L1846.4 1508.1L1846.9 1484.7L1847.3 1468.2L1847.8 1456.4L1848.3 1447L1848.7 1438.3L1849.2 1430L1849.6 1422.1L1850.1 1414.6L1850.6 1407.6L1851 1400.9L1851.5 1394.6L1851.9 1388.6L1852.4 1383L1852.9 1377.8L1853.3 1372.8L1853.8 1368.1L1854.2 1363.8L1854.7 1359.8L1855.2 1356.1L1855.6 1352.6L1856.1 1349.4L1856.5 1346.5L1857 1343.8L1857.5 1341.3L1857.9 1339.1L1858.4 1337L1858.8 1335.2L1859.3 1333.5L1859.8 1332.1L1860.2 1330.8L1860.7 1329.6L1861.1 1328.6L1861.6 1327.7L1862.1 1326.9L1862.5 1326.2L1863 1325.7L1863.4 1325.2L1863.9 1324.8L1864.4 1324.5L1864.8 1324.2L1865.3 1324.1L1865.7 1324.1L1866.2 1324.1L1866.7 1324.3L1867.1 1324.5L1867.6 1324.9L1868 1325.3L1868.5 1325.9L1869 1326.6L1869.4 1327.4L1869.9 1328.3L1870.3 1329.3L1870.8 1330.4L1871.3 1331.7L1871.7 1333.1L1872.2 1334.6L1872.6 1336.2L1873.1 1338L1873.6 1339.9L1874 1341.9L1874.5 1344L1874.9 1346.2L1875.4 1348.5L1875.9 1350.9L1876.3 1353.4L1876.8 1356L1877.3 1358.7L1877.7 1361.4L1878.2 1364.2L1878.6 1367.1L1879.1 1370.1L1879.6 1373.2L1880 1376.5L1880.5 1379.9L1880.9 1383.5L1881.4 1387.3L1881.9 1391.3L1882.3 1395.6L1882.8 1400.1L1883.2 1405L1883.7 1410.2L1884.2 1415.7L1884.6 1421.4L1885.1 1427L1885.5 1432.4L1886 1437.3L1886.5 1441.5L1886.9 1444.9L1887.4 1447.3L1887.8 1448.9L1888.3 1449.7L1888.8 1450L1889.2 1449.8L1889.7 1449.4L1890.1 1448.7L1890.6 1447.8L1891.1 1446.6L1891.5 1445.3L1892 1443.7L1892.4 1442L1892.9 1440L1893.4 1437.9L1893.8 1435.7L1894.3 1433.4L1894.7 1431L1895.2 1428.5L1895.7 1426L1896.1 1423.4L1896.6 1420.8L1897 1418.2L1897.5 1415.7L1898 1413.2L1898.4 1410.8L1898.9 1408.4L1899.3 1406.2L1899.8 1404.1L1900.3 1402.1L1900.7 1400.3L1901.2 1398.7L1901.6 1397.3L1902.1 1396.1L1902.6 1395.2L1903 1394.5L1903.5 1394L1903.9 1393.7L1904.4 1393.6L1904.9 1393.6L1905.3 1393.8L1905.8 1394.1L1906.2 1394.6L1906.7 1395.3L1907.2 1396L1907.6 1397L1908.1 1398L1908.5 1399.2L1909 1400.6L1909.5 1402L1909.9 1403.6L1910.4 1405.4L1910.8 1407.2L1911.3 1409.2L1911.8 1411.3L1912.2 1413.6L1912.7 1415.9L1913.1 1418.4L1913.6 1421L1914.1 1423.8L1914.5 1426.9L1915 1430.3L1915.4 1434.2L1915.9 1438.5L1916.4 1443.4L1916.8 1448.9L1917.3 1455.1L1917.7 1462.1L1918.2 1469.8L1918.7 1478.1L1919.1 1486.8L1919.6 1495.8L1920 1504.9L1920.5 1514.1L1921 1523.2L1921.4 1532.1L1921.9 1540.6L1922.3 1548.5L1922.8 1555.8L1923.3 1562.1L1923.7 1553.5L1924.2 1545L1924.6 1536.7L1925.1 1528.6L1925.6 1520.6L1926 1512.9L1926.5 1505.4L1926.9 1498L1927.4 1490.8L1927.9 1483.7L1928.3 1476.8L1928.8 1470.1L1929.2 1463.6L1929.7 1457.2L1930.1 1451L1930.6 1444.9L1931.1 1439.1L1931.5 1433.4L1932 1427.8L1932.4 1422.4L1932.9 1417.3L1933.4 1412.2L1933.8 1407.4L1934.3 1402.7L1934.7 1398.1L1935.2 1393.8L1935.7 1389.5L1936.1 1385.5L1936.6 1381.6L1937 1377.8L1937.5 1374.2L1937.9 1370.7L1938.4 1367.4L1938.9 1364.2L1939.3 1361.2L1939.8 1358.3L1940.2 1355.6L1940.7 1353L1941.2 1350.5L1941.6 1348.2L1942.1 1346L1942.5 1344L1943 1342.1L1943.4 1340.4L1943.9 1338.7L1944.4 1337.2L1944.8 1335.9L1945.3 1334.6L1945.7 1333.5L1946.2 1332.5L1946.7 1331.6L1947.1 1330.8L1947.6 1330.2L1948 1329.6L1948.5 1329.2L1949 1328.9L1949.4 1328.6L1949.9 1328.5L1950.3 1328.5L1950.8 1328.5L1951.2 1328.7L1951.7 1329L1952.2 1329.3L1952.6 1329.8L1953.1 1330.3L1953.5 1330.9L1954 1331.6L1954.5 1332.4L1954.9 1333.2L1955.4 1334.2L1955.8 1335.2L1956.3 1336.2L1956.7 1337.4L1957.2 1338.6L1957.7 1339.9L1958.1 1341.2L1958.6 1342.6L1959 1344.1L1959.5 1345.6L1960 1347.2L1960.4 1348.9L1960.9 1350.6L1961.3 1352.5L1961.8 1354.3L1962.3 1356.3L1962.7 1358.3L1963.2 1360.4L1963.6 1362.6L1964.1 1364.8L1964.5 1367.2L1965 1369.6L1965.5 1372.1L1965.9 1374.8L1966.4 1377.6L1966.8 1380.6L1967.3 1383.8L1967.8 1387.2L1968.2 1390.8L1968.7 1394.6L1969.1 1398.7L1969.6 1403L1970.1 1407.6L1970.5 1412.5L1971 1417.4L1971.4 1422.4L1971.9 1427.5L1972.3 1432.4L1972.8 1437.2L1973.3 1441.8L1973.7 1446.1L1974.2 1450L1974.6 1453.5L1975.1 1456.7L1975.6 1459.4L1976 1461.9L1976.5 1464L1976.9 1465.8L1977.4 1467.3L1977.8 1468.5L1978.3 1469.5L1978.8 1470.2L1979.2 1470.7L1979.7 1471L1980.1 1471.2L1980.6 1471.1L1981.1 1470.9L1981.5 1470.5L1982 1470L1982.4 1469.4L1982.9 1468.7L1983.4 1468L1983.8 1467.1L1984.3 1466.2L1984.7 1465.3L1985.2 1464.3L1985.6 1463.3L1986.1 1462.3L1986.6 1461.4L1987 1460.5L1987.5 1459.6L1987.9 1458.8L1988.4 1458.1L1988.9 1457.4L1989.3 1456.9L1989.8 1456.5L1990.2 1456.1L1990.7 1455.9L1991.1 1455.7L1991.6 1455.6L1992.1 1455.7L1992.5 1455.8L1993 1456.1L1993.4 1456.6L1993.9 1457.3L1994.4 1458.2L1994.8 1459.4L1995.3 1460.8L1995.7 1462.3L1996.2 1464.1L1996.7 1465.9L1997.1 1467.9L1997.6 1470L1998 1472.1L1998.5 1474.3L1998.9 1476.5L1999.4 1478.7L1999.9 1480.9L2000.3 1483.1L2000.8 1485.2L2001.2 1487.1L2001.7 1489L2002.2 1490.7L2002.6 1492.3L2003.1 1493.7L2003.5 1494.8L2004 1495.8L2004.4 1496.4L2004.9 1496.8L2005.4 1496.9L2005.8 1496.7L2006.3 1496.1L2006.7 1495.2L2007.2 1494L2007.7 1492.3L2008.1 1490.3L2008.6 1487.9L2009 1485.2L2009.5 1482.2L2010 1478.9L2010.4 1475.3L2010.9 1471.6L2011.3 1467.6L2011.8 1463.5L2012.2 1459.3L2012.7 1455L2013.2 1450.7L2013.6 1446.3L2014.1 1442L2014.5 1437.6L2015 1433.4L2015.5 1429.3L2015.9 1425.3L2016.4 1421.3L2016.8 1417.5L2017.3 1413.8L2017.7 1410.2L2018.2 1406.6L2018.7 1403.2L2019.1 1399.9L2019.6 1396.6L2020 1393.5L2020.5 1390.4L2021 1387.5L2021.4 1384.7L2021.9 1381.9L2022.3 1379.2L2022.8 1376.7L2023.3 1374.2L2023.7 1371.8L2024.2 1369.5L2024.6 1367.3L2025.1 1365.2L2025.5 1363.2L2026 1361.3L2026.5 1359.5L2026.9 1357.7L2027.4 1356.1L2027.8 1354.5L2028.3 1353.1L2028.8 1351.7L2029.2 1350.4L2029.7 1349.2L2030.1 1348.1L2030.6 1347L2031.1 1346.1L2031.5 1345.2L2032 1344.4L2032.4 1343.7L2032.9 1343.1L2033.3 1342.5L2033.8 1342.1L2034.3 1341.7L2034.7 1341.4L2035.2 1341.1L2035.6 1341L2036.1 1340.9L2036.6 1340.9L2037 1341L2037.5 1341.2L2037.9 1341.5L2038.4 1341.9L2038.8 1342.3L2039.3 1342.8L2039.8 1343.4L2040.2 1344.1L2040.7 1344.9L2041.1 1345.8L2041.6 1346.8L2042.1 1347.8L2042.5 1349L2043 1350.2L2043.4 1351.6L2043.9 1353L2044.4 1354.5L2044.8 1356.2L2045.3 1357.9L2045.7 1359.7L2046.2 1361.6L2046.6 1363.6L2047.1 1365.7L2047.6 1368L2048 1370.3L2048.5 1372.7L2048.9 1375.2L2049.4 1377.8L2049.9 1380.5L2050.3 1383.3L2050.8 1386.2L2051.2 1389.2L2051.7 1392.4L2052.1 1395.6L2052.6 1399L2053.1 1402.5L2053.5 1406.2L2054 1410.1L2054.4 1414.2L2054.9 1418.6L2055.4 1423.1L2055.8 1427.9L2056.3 1433L2056.7 1438.3L2057.2 1443.9L2057.7 1449.8L2058.1 1456L2058.6 1462.6L2059 1469.5L2059.5 1476.7L2059.9 1484.4L2060.4 1492.4L2060.9 1500.8L2061.3 1509.6L2061.8 1518.8L2062.2 1528.3L2062.7 1538L2063.2 1547.7L2063.6 1557.4L2064.1 1566.9L2064.5 1576.1L2065 1584.9L2065.4 1593.4L2065.9 1601.3L2066.4 1608.5L2066.8 1614.9L2067.3 1620.4L2067.7 1624.9L2068.2 1628.3L2068.7 1621L2069.1 1613.8L2069.6 1606.5L2070 1599.3L2070.5 1592.2L2071 1585.2L2071.4 1578.4L2071.9 1571.7L2072.4 1565.2L2072.8 1559L2073.3 1552.9L2073.7 1547.1L2074.2 1541.6L2074.7 1536.4L2075.1 1531.6L2075.6 1527.1L2076 1522.9L2076.5 1519L2077 1515.4L2077.4 1512.1L2077.9 1509.1L2078.3 1506.3L2078.8 1503.8L2079.3 1501.5L2079.7 1499.4L2080.2 1497.5L2080.7 1495.8L2081.1 1494.3L2081.6 1493L2082 1491.9L2082.5 1491L2083 1490.2L2083.4 1489.6L2083.9 1489.2L2084.3 1488.9L2084.8 1488.7L2085.3 1488.7L2085.7 1488.8L2086.2 1489L2086.7 1489.3L2087.1 1489.7L2087.6 1490.2L2088 1490.8L2088.5 1491.4L2089 1492.1L2089.4 1492.8L2089.9 1493.5L2090.3 1494.3L2090.8 1495.1L2091.3 1495.8L2091.7 1496.6L2092.2 1497.3L2092.6 1498L2093.1 1498.7L2093.6 1499.3L2094 1499.8L2094.5 1500.2L2095 1500.5L2095.4 1500.7L2095.9 1500.7L2096.3 1500.6L2096.8 1500.2L2097.3 1499.5L2097.7 1498.5L2098.2 1497.1L2098.6 1495.4L2099.1 1493.4L2099.6 1491.2L2100 1488.9L2100.5 1486.3L2101 1483.7L2101.4 1481L2101.9 1478.2L2102.3 1475.4L2102.8 1472.5L2103.3 1469.6L2103.7 1466.7L2104.2 1463.8L2104.6 1460.9L2105.1 1457.9L2105.6 1455L2106 1452.2L2106.5 1449.3L2106.9 1446.5L2107.4 1443.8L2107.9 1441L2108.3 1438.3L2108.8 1435.6L2109.3 1433L2109.7 1430.4L2110.2 1427.9L2110.6 1425.4L2111.1 1422.9L2111.6 1420.5L2112 1418.1L2112.5 1415.8L2112.9 1413.5L2113.4 1411.3L2113.9 1409.2L2114.3 1407.1L2114.8 1405L2115.3 1403.1L2115.7 1401.1L2116.2 1399.3L2116.6 1397.5L2117.1 1395.8L2117.6 1394.1L2118 1392.6L2118.5 1391L2118.9 1389.6L2119.4 1388.2L2119.9 1386.9L2120.3 1385.7L2120.8 1384.6L2121.2 1383.5L2121.7 1382.5L2122.2 1381.5L2122.6 1380.6L2123.1 1379.8L2123.6 1379.1L2124 1378.5L2124.5 1377.9L2124.9 1377.4L2125.4 1377L2125.9 1376.6L2126.3 1376.4L2126.8 1376.2L2127.2 1376.1L2127.7 1376.1L2128.2 1376.1L2128.6 1376.2L2129.1 1376.4L2129.6 1376.7L2130 1377L2130.5 1377.3L2130.9 1377.7L2131.4 1378.2L2131.9 1378.7L2132.3 1379.2L2132.8 1379.7L2133.2 1380.3L2133.7 1380.8L2134.2 1381.4L2134.6 1382L2135.1 1382.6L2135.5 1383.2L2136 1383.7L2136.5 1384.3L2136.9 1384.8L2137.4 1385.3" fill="none" stroke="#0000ff" stroke-width="7.5" stroke-linejoin="round" stroke-linecap="round" clip-path="url(#cdd)"/>
</g>
</svg></body></html>
